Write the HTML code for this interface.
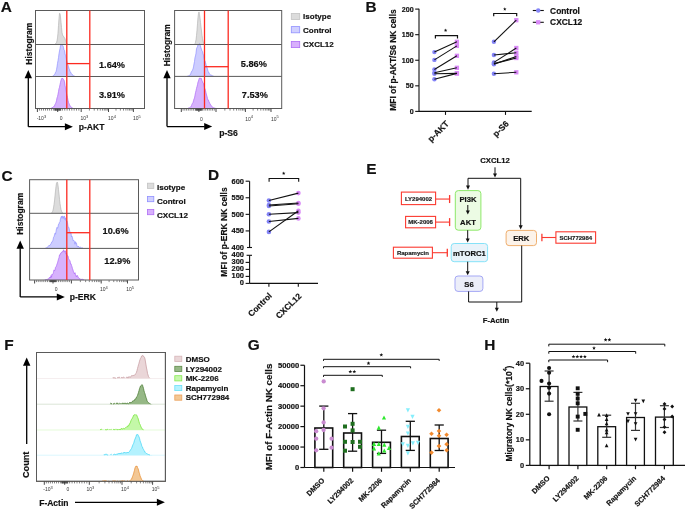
<!DOCTYPE html>
<html><head><meta charset="utf-8"><style>
html,body{margin:0;padding:0;background:#fff;overflow:hidden;}
svg{display:block;font-family:"Liberation Sans", sans-serif;will-change:transform;}
</style></head><body>
<svg width="685" height="509" viewBox="0 0 685 509">
<rect width="685" height="509" fill="#fff"/>
<text x="0.64" y="11.60" font-size="15.4" font-weight="bold" text-anchor="start" fill="#111" stroke="#111" stroke-width="0.18">A</text>
<polygon points="51.00,44.50 51.00,44.50 51.50,44.50 52.00,44.49 52.50,44.49 53.00,44.47 53.50,44.44 54.00,44.38 54.50,44.27 55.00,44.10 55.50,43.84 56.00,43.27 56.50,42.63 57.00,40.83 57.50,37.95 58.00,33.09 58.50,25.61 59.00,18.56 59.50,13.42 60.00,13.50 60.50,16.93 61.00,22.15 61.50,27.45 62.00,32.39 62.50,34.99 63.00,35.97 63.50,36.30 64.00,37.10 64.50,38.03 65.00,38.67 65.50,40.71 66.00,41.41 66.50,42.77 67.00,43.55 67.50,44.01 68.00,44.25 68.50,44.40 69.00,44.46 69.50,44.49 70.00,44.50 70.00,44.50" fill="#dcdcdc" stroke="none" stroke-width="1"/>
<polyline points="55.00,44.10 55.50,43.84 56.00,43.27 56.50,42.63 57.00,40.83 57.50,37.95 58.00,33.09 58.50,25.61 59.00,18.56 59.50,13.42 60.00,13.50 60.50,16.93 61.00,22.15 61.50,27.45 62.00,32.39 62.50,34.99 63.00,35.97 63.50,36.30 64.00,37.10 64.50,38.03 65.00,38.67 65.50,40.71 66.00,41.41 66.50,42.77 67.00,43.55 67.50,44.01" fill="none" stroke="#b4b4b4" stroke-width="0.7" stroke-linejoin="round"/>
<polygon points="49.00,76.50 49.00,76.49 49.50,76.49 50.00,76.47 50.50,76.45 51.00,76.42 51.50,76.36 52.00,76.28 52.50,76.17 53.00,75.84 53.50,75.74 54.00,75.11 54.50,74.39 55.00,73.79 55.50,72.35 56.00,71.66 56.50,69.69 57.00,67.03 57.50,63.37 58.00,60.70 58.50,57.60 59.00,53.81 59.50,50.97 60.00,48.59 60.50,45.66 61.00,44.52 61.50,44.80 62.00,44.44 62.50,45.32 63.00,45.81 63.50,47.46 64.00,49.86 64.50,50.40 65.00,53.88 65.50,55.37 66.00,56.85 66.50,60.05 67.00,61.51 67.50,64.31 68.00,65.05 68.50,66.61 69.00,68.53 69.50,69.38 70.00,71.61 70.50,71.97 71.00,73.06 71.50,73.84 72.00,74.56 72.50,74.77 73.00,75.16 73.50,75.68 74.00,75.85 74.50,76.15 75.00,76.17 75.50,76.29 76.00,76.35 76.50,76.40 77.00,76.43 77.50,76.46 78.00,76.47 78.00,76.50" fill="#cdcdff" stroke="none" stroke-width="1"/>
<polyline points="52.50,76.17 53.00,75.84 53.50,75.74 54.00,75.11 54.50,74.39 55.00,73.79 55.50,72.35 56.00,71.66 56.50,69.69 57.00,67.03 57.50,63.37 58.00,60.70 58.50,57.60 59.00,53.81 59.50,50.97 60.00,48.59 60.50,45.66 61.00,44.52 61.50,44.80 62.00,44.44 62.50,45.32 63.00,45.81 63.50,47.46 64.00,49.86 64.50,50.40 65.00,53.88 65.50,55.37 66.00,56.85 66.50,60.05 67.00,61.51 67.50,64.31 68.00,65.05 68.50,66.61 69.00,68.53 69.50,69.38 70.00,71.61 70.50,71.97 71.00,73.06 71.50,73.84 72.00,74.56 72.50,74.77 73.00,75.16 73.50,75.68 74.00,75.85 74.50,76.15 75.00,76.17" fill="none" stroke="#9090ff" stroke-width="0.7" stroke-linejoin="round"/>
<polygon points="48.00,108.50 48.00,108.48 48.50,108.47 49.00,108.45 49.50,108.42 50.00,108.38 50.50,108.31 51.00,108.21 51.50,108.05 52.00,107.77 52.50,107.51 53.00,107.35 53.50,106.85 54.00,106.02 54.50,105.90 55.00,104.45 55.50,103.68 56.00,102.33 56.50,100.76 57.00,97.89 57.50,96.71 58.00,94.29 58.50,91.72 59.00,88.64 59.50,87.36 60.00,84.59 60.50,82.42 61.00,80.23 61.50,79.00 62.00,78.07 62.50,78.52 63.00,78.53 63.50,79.44 64.00,80.12 64.50,81.94 65.00,85.37 65.50,87.89 66.00,90.50 66.50,93.18 67.00,95.41 67.50,97.65 68.00,100.25 68.50,102.47 69.00,103.46 69.50,104.81 70.00,105.60 70.50,106.14 71.00,106.97 71.50,107.51 72.00,107.81 72.50,108.04 73.00,108.22 73.50,108.32 74.00,108.39 74.50,108.43 75.00,108.46 75.50,108.48 76.00,108.49 76.00,108.50" fill="#d7b2fd" stroke="none" stroke-width="1"/>
<polyline points="51.00,108.21 51.50,108.05 52.00,107.77 52.50,107.51 53.00,107.35 53.50,106.85 54.00,106.02 54.50,105.90 55.00,104.45 55.50,103.68 56.00,102.33 56.50,100.76 57.00,97.89 57.50,96.71 58.00,94.29 58.50,91.72 59.00,88.64 59.50,87.36 60.00,84.59 60.50,82.42 61.00,80.23 61.50,79.00 62.00,78.07 62.50,78.52 63.00,78.53 63.50,79.44 64.00,80.12 64.50,81.94 65.00,85.37 65.50,87.89 66.00,90.50 66.50,93.18 67.00,95.41 67.50,97.65 68.00,100.25 68.50,102.47 69.00,103.46 69.50,104.81 70.00,105.60 70.50,106.14 71.00,106.97 71.50,107.51 72.00,107.81 72.50,108.04 73.00,108.22" fill="none" stroke="#ac68f6" stroke-width="0.7" stroke-linejoin="round"/>
<rect x="35.50" y="10.50" width="109.00" height="98.00" fill="none" stroke="#5a5a5a" stroke-width="1" rx="0"/>
<line x1="35.50" y1="44.50" x2="144.50" y2="44.50" stroke="#5a5a5a" stroke-width="1"/>
<line x1="35.50" y1="76.50" x2="144.50" y2="76.50" stroke="#5a5a5a" stroke-width="1"/>
<line x1="66.80" y1="10.50" x2="66.80" y2="108.50" stroke="#fc2a20" stroke-width="1.3"/>
<line x1="89.80" y1="10.50" x2="89.80" y2="108.50" stroke="#fc2a20" stroke-width="1.3"/>
<line x1="66.80" y1="63.60" x2="89.80" y2="63.60" stroke="#fc2a20" stroke-width="1.3"/>
<text x="112.00" y="68.30" font-size="9.2" font-weight="bold" text-anchor="middle" fill="#111" stroke="#111" stroke-width="0.18">1.64%</text>
<text x="112.00" y="98.30" font-size="9.2" font-weight="bold" text-anchor="middle" fill="#111" stroke="#111" stroke-width="0.18">3.91%</text>
<text x="31.90" y="43.60" font-size="8.5" font-weight="bold" text-anchor="middle" fill="#111" stroke="#111" stroke-width="0.18" transform="rotate(-90 31.9 43.6)">Histogram</text>
<line x1="28.30" y1="126.70" x2="28.30" y2="77.80" stroke="#000" stroke-width="1.3"/>
<polygon points="28.30,70.00 24.60,78.30 32.00,78.30" fill="#000" stroke="none" stroke-width="1"/>
<line x1="28.30" y1="126.70" x2="65.40" y2="126.70" stroke="#000" stroke-width="1.3"/>
<polygon points="72.90,126.70 64.90,123.20 64.90,130.20" fill="#000" stroke="none" stroke-width="1"/>
<text x="78.70" y="130.20" font-size="8.6" font-weight="bold" text-anchor="start" fill="#111" stroke="#111" stroke-width="0.18">p-AKT</text>
<line x1="37.40" y1="108.80" x2="37.40" y2="112.00" stroke="#333" stroke-width="0.9"/>
<line x1="57.70" y1="108.80" x2="57.70" y2="112.00" stroke="#333" stroke-width="0.9"/>
<line x1="81.20" y1="108.80" x2="81.20" y2="112.00" stroke="#333" stroke-width="0.9"/>
<line x1="108.50" y1="108.80" x2="108.50" y2="112.00" stroke="#333" stroke-width="0.9"/>
<line x1="133.40" y1="108.80" x2="133.40" y2="112.00" stroke="#333" stroke-width="0.9"/>
<line x1="39.43" y1="108.80" x2="39.43" y2="110.60" stroke="#333" stroke-width="0.6"/>
<line x1="60.05" y1="108.80" x2="60.05" y2="110.60" stroke="#333" stroke-width="0.6"/>
<line x1="41.46" y1="108.80" x2="41.46" y2="110.60" stroke="#333" stroke-width="0.6"/>
<line x1="62.40" y1="108.80" x2="62.40" y2="110.60" stroke="#333" stroke-width="0.6"/>
<line x1="43.49" y1="108.80" x2="43.49" y2="110.60" stroke="#333" stroke-width="0.6"/>
<line x1="64.75" y1="108.80" x2="64.75" y2="110.60" stroke="#333" stroke-width="0.6"/>
<line x1="45.52" y1="108.80" x2="45.52" y2="110.60" stroke="#333" stroke-width="0.6"/>
<line x1="67.10" y1="108.80" x2="67.10" y2="110.60" stroke="#333" stroke-width="0.6"/>
<line x1="47.55" y1="108.80" x2="47.55" y2="110.60" stroke="#333" stroke-width="0.6"/>
<line x1="69.45" y1="108.80" x2="69.45" y2="110.60" stroke="#333" stroke-width="0.6"/>
<line x1="49.58" y1="108.80" x2="49.58" y2="110.60" stroke="#333" stroke-width="0.6"/>
<line x1="71.80" y1="108.80" x2="71.80" y2="110.60" stroke="#333" stroke-width="0.6"/>
<line x1="51.61" y1="108.80" x2="51.61" y2="110.60" stroke="#333" stroke-width="0.6"/>
<line x1="74.15" y1="108.80" x2="74.15" y2="110.60" stroke="#333" stroke-width="0.6"/>
<line x1="53.64" y1="108.80" x2="53.64" y2="110.60" stroke="#333" stroke-width="0.6"/>
<line x1="76.50" y1="108.80" x2="76.50" y2="110.60" stroke="#333" stroke-width="0.6"/>
<line x1="55.67" y1="108.80" x2="55.67" y2="110.60" stroke="#333" stroke-width="0.6"/>
<line x1="78.85" y1="108.80" x2="78.85" y2="110.60" stroke="#333" stroke-width="0.6"/>
<line x1="89.42" y1="108.80" x2="89.42" y2="110.60" stroke="#333" stroke-width="0.6"/>
<line x1="94.23" y1="108.80" x2="94.23" y2="110.60" stroke="#333" stroke-width="0.6"/>
<line x1="97.64" y1="108.80" x2="97.64" y2="110.60" stroke="#333" stroke-width="0.6"/>
<line x1="100.28" y1="108.80" x2="100.28" y2="110.60" stroke="#333" stroke-width="0.6"/>
<line x1="102.44" y1="108.80" x2="102.44" y2="110.60" stroke="#333" stroke-width="0.6"/>
<line x1="104.27" y1="108.80" x2="104.27" y2="110.60" stroke="#333" stroke-width="0.6"/>
<line x1="105.85" y1="108.80" x2="105.85" y2="110.60" stroke="#333" stroke-width="0.6"/>
<line x1="107.25" y1="108.80" x2="107.25" y2="110.60" stroke="#333" stroke-width="0.6"/>
<line x1="116.00" y1="108.80" x2="116.00" y2="110.60" stroke="#333" stroke-width="0.6"/>
<line x1="120.38" y1="108.80" x2="120.38" y2="110.60" stroke="#333" stroke-width="0.6"/>
<line x1="123.49" y1="108.80" x2="123.49" y2="110.60" stroke="#333" stroke-width="0.6"/>
<line x1="125.90" y1="108.80" x2="125.90" y2="110.60" stroke="#333" stroke-width="0.6"/>
<line x1="127.88" y1="108.80" x2="127.88" y2="110.60" stroke="#333" stroke-width="0.6"/>
<line x1="129.54" y1="108.80" x2="129.54" y2="110.60" stroke="#333" stroke-width="0.6"/>
<line x1="130.99" y1="108.80" x2="130.99" y2="110.60" stroke="#333" stroke-width="0.6"/>
<line x1="132.26" y1="108.80" x2="132.26" y2="110.60" stroke="#333" stroke-width="0.6"/>
<line x1="54.70" y1="108.80" x2="54.70" y2="110.60" stroke="#333" stroke-width="0.6"/>
<line x1="55.20" y1="108.80" x2="55.20" y2="110.60" stroke="#333" stroke-width="0.6"/>
<line x1="55.70" y1="108.80" x2="55.70" y2="110.60" stroke="#333" stroke-width="0.6"/>
<line x1="56.20" y1="108.80" x2="56.20" y2="110.60" stroke="#333" stroke-width="0.6"/>
<line x1="56.70" y1="108.80" x2="56.70" y2="110.60" stroke="#333" stroke-width="0.6"/>
<line x1="57.20" y1="108.80" x2="57.20" y2="110.60" stroke="#333" stroke-width="0.6"/>
<line x1="57.70" y1="108.80" x2="57.70" y2="110.60" stroke="#333" stroke-width="0.6"/>
<line x1="58.20" y1="108.80" x2="58.20" y2="110.60" stroke="#333" stroke-width="0.6"/>
<line x1="58.70" y1="108.80" x2="58.70" y2="110.60" stroke="#333" stroke-width="0.6"/>
<line x1="59.20" y1="108.80" x2="59.20" y2="110.60" stroke="#333" stroke-width="0.6"/>
<line x1="59.70" y1="108.80" x2="59.70" y2="110.60" stroke="#333" stroke-width="0.6"/>
<line x1="60.20" y1="108.80" x2="60.20" y2="110.60" stroke="#333" stroke-width="0.6"/>
<line x1="60.70" y1="108.80" x2="60.70" y2="110.60" stroke="#333" stroke-width="0.6"/>
<text x="41.40" y="120.30" font-size="5.0" fill="#333" text-anchor="middle">-10<tspan dy="-2.3" font-size="4.00">3</tspan></text>
<text x="61.20" y="120.30" font-size="5.0" fill="#333" text-anchor="middle">0</text>
<text x="84.30" y="120.30" font-size="5.0" fill="#333" text-anchor="middle">10<tspan dy="-2.3" font-size="4.00">3</tspan></text>
<text x="112.00" y="120.30" font-size="5.0" fill="#333" text-anchor="middle">10<tspan dy="-2.3" font-size="4.00">4</tspan></text>
<text x="136.90" y="120.30" font-size="5.0" fill="#333" text-anchor="middle">10<tspan dy="-2.3" font-size="4.00">5</tspan></text>
<polygon points="193.00,44.50 193.00,44.49 193.50,44.48 194.00,44.41 194.50,44.21 195.00,43.80 195.50,42.27 196.00,39.83 196.50,35.75 197.00,30.14 197.50,23.81 198.00,17.36 198.50,13.44 199.00,11.90 199.50,14.45 200.00,18.12 200.50,22.41 201.00,26.97 201.50,30.99 202.00,35.21 202.50,38.65 203.00,41.13 203.50,42.81 204.00,43.69 204.50,44.23 205.00,44.40 205.50,44.47 206.00,44.49 206.00,44.50" fill="#dcdcdc" stroke="none" stroke-width="1"/>
<polyline points="194.50,44.21 195.00,43.80 195.50,42.27 196.00,39.83 196.50,35.75 197.00,30.14 197.50,23.81 198.00,17.36 198.50,13.44 199.00,11.90 199.50,14.45 200.00,18.12 200.50,22.41 201.00,26.97 201.50,30.99 202.00,35.21 202.50,38.65 203.00,41.13 203.50,42.81 204.00,43.69 204.50,44.23" fill="none" stroke="#b4b4b4" stroke-width="0.7" stroke-linejoin="round"/>
<polygon points="184.00,76.40 184.00,76.39 184.50,76.38 185.00,76.36 185.50,76.34 186.00,76.31 186.50,76.26 187.00,76.19 187.50,76.04 188.00,75.93 188.50,75.88 189.00,75.63 189.50,75.27 190.00,74.85 190.50,74.58 191.00,72.90 191.50,71.53 192.00,71.40 192.50,69.93 193.00,68.99 193.50,66.89 194.00,64.02 194.50,61.49 195.00,57.48 195.50,55.86 196.00,53.27 196.50,48.80 197.00,47.46 197.50,46.56 198.00,44.67 198.50,45.17 199.00,44.14 199.50,43.66 200.00,44.66 200.50,45.99 201.00,48.04 201.50,49.18 202.00,51.10 202.50,51.56 203.00,53.83 203.50,55.22 204.00,58.06 204.50,60.22 205.00,60.96 205.50,62.47 206.00,64.49 206.50,66.21 207.00,67.67 207.50,69.17 208.00,71.38 208.50,71.83 209.00,73.01 209.50,74.17 210.00,74.65 210.50,74.82 211.00,75.20 211.50,75.26 212.00,75.44 212.50,75.84 213.00,75.88 213.50,76.02 214.00,76.18 214.50,76.24 215.00,76.29 215.50,76.32 216.00,76.35 216.50,76.37 217.00,76.38 217.00,76.40" fill="#cdcdff" stroke="none" stroke-width="1"/>
<polyline points="187.50,76.04 188.00,75.93 188.50,75.88 189.00,75.63 189.50,75.27 190.00,74.85 190.50,74.58 191.00,72.90 191.50,71.53 192.00,71.40 192.50,69.93 193.00,68.99 193.50,66.89 194.00,64.02 194.50,61.49 195.00,57.48 195.50,55.86 196.00,53.27 196.50,48.80 197.00,47.46 197.50,46.56 198.00,44.67 198.50,45.17 199.00,44.14 199.50,43.66 200.00,44.66 200.50,45.99 201.00,48.04 201.50,49.18 202.00,51.10 202.50,51.56 203.00,53.83 203.50,55.22 204.00,58.06 204.50,60.22 205.00,60.96 205.50,62.47 206.00,64.49 206.50,66.21 207.00,67.67 207.50,69.17 208.00,71.38 208.50,71.83 209.00,73.01 209.50,74.17 210.00,74.65 210.50,74.82 211.00,75.20 211.50,75.26 212.00,75.44 212.50,75.84 213.00,75.88 213.50,76.02" fill="none" stroke="#9090ff" stroke-width="0.7" stroke-linejoin="round"/>
<polygon points="184.00,108.50 184.00,108.49 184.50,108.49 185.00,108.48 185.50,108.46 186.00,108.44 186.50,108.41 187.00,108.37 187.50,108.30 188.00,108.21 188.50,108.01 189.00,107.93 189.50,107.74 190.00,107.44 190.50,107.07 191.00,106.57 191.50,105.53 192.00,104.27 192.50,103.27 193.00,102.53 193.50,100.83 194.00,98.97 194.50,98.10 195.00,95.26 195.50,92.73 196.00,90.65 196.50,88.40 197.00,86.53 197.50,84.82 198.00,82.05 198.50,81.05 199.00,79.11 199.50,78.00 200.00,78.38 200.50,78.39 201.00,77.96 201.50,78.89 202.00,80.56 202.50,81.76 203.00,83.09 203.50,83.56 204.00,85.37 204.50,88.06 205.00,88.93 205.50,90.55 206.00,92.82 206.50,95.01 207.00,96.41 207.50,98.58 208.00,100.21 208.50,100.20 209.00,101.85 209.50,103.09 210.00,103.45 210.50,104.95 211.00,105.18 211.50,105.87 212.00,106.82 212.50,107.16 213.00,107.44 213.50,107.70 214.00,107.81 214.50,108.04 215.00,108.13 215.50,108.22 216.00,108.29 216.50,108.35 217.00,108.39 217.50,108.42 218.00,108.45 218.50,108.46 219.00,108.47 219.00,108.50" fill="#d7b2fd" stroke="none" stroke-width="1"/>
<polyline points="188.00,108.21 188.50,108.01 189.00,107.93 189.50,107.74 190.00,107.44 190.50,107.07 191.00,106.57 191.50,105.53 192.00,104.27 192.50,103.27 193.00,102.53 193.50,100.83 194.00,98.97 194.50,98.10 195.00,95.26 195.50,92.73 196.00,90.65 196.50,88.40 197.00,86.53 197.50,84.82 198.00,82.05 198.50,81.05 199.00,79.11 199.50,78.00 200.00,78.38 200.50,78.39 201.00,77.96 201.50,78.89 202.00,80.56 202.50,81.76 203.00,83.09 203.50,83.56 204.00,85.37 204.50,88.06 205.00,88.93 205.50,90.55 206.00,92.82 206.50,95.01 207.00,96.41 207.50,98.58 208.00,100.21 208.50,100.20 209.00,101.85 209.50,103.09 210.00,103.45 210.50,104.95 211.00,105.18 211.50,105.87 212.00,106.82 212.50,107.16 213.00,107.44 213.50,107.70 214.00,107.81 214.50,108.04 215.00,108.13 215.50,108.22" fill="none" stroke="#ac68f6" stroke-width="0.7" stroke-linejoin="round"/>
<rect x="174.60" y="10.50" width="107.10" height="98.00" fill="none" stroke="#5a5a5a" stroke-width="1" rx="0"/>
<line x1="174.60" y1="44.50" x2="281.70" y2="44.50" stroke="#5a5a5a" stroke-width="1"/>
<line x1="174.60" y1="76.40" x2="281.70" y2="76.40" stroke="#5a5a5a" stroke-width="1"/>
<line x1="204.50" y1="10.50" x2="204.50" y2="108.50" stroke="#fc2a20" stroke-width="1.3"/>
<line x1="228.20" y1="10.50" x2="228.20" y2="108.50" stroke="#fc2a20" stroke-width="1.3"/>
<line x1="204.50" y1="66.70" x2="228.20" y2="66.70" stroke="#fc2a20" stroke-width="1.3"/>
<text x="253.80" y="67.30" font-size="9.2" font-weight="bold" text-anchor="middle" fill="#111" stroke="#111" stroke-width="0.18">5.86%</text>
<text x="254.80" y="98.00" font-size="9.2" font-weight="bold" text-anchor="middle" fill="#111" stroke="#111" stroke-width="0.18">7.53%</text>
<text x="170.00" y="45.10" font-size="8.5" font-weight="bold" text-anchor="middle" fill="#111" stroke="#111" stroke-width="0.18" transform="rotate(-90 170.0 45.1)">Histogram</text>
<line x1="167.00" y1="126.60" x2="167.00" y2="77.80" stroke="#000" stroke-width="1.3"/>
<polygon points="167.00,70.00 163.30,78.30 170.70,78.30" fill="#000" stroke="none" stroke-width="1"/>
<line x1="167.00" y1="126.60" x2="204.70" y2="126.60" stroke="#000" stroke-width="1.3"/>
<polygon points="212.20,126.60 204.20,123.10 204.20,130.10" fill="#000" stroke="none" stroke-width="1"/>
<text x="219.20" y="136.20" font-size="8.6" font-weight="bold" text-anchor="start" fill="#111" stroke="#111" stroke-width="0.18">p-S6</text>
<line x1="181.30" y1="108.80" x2="181.30" y2="112.00" stroke="#333" stroke-width="0.9"/>
<line x1="198.90" y1="108.80" x2="198.90" y2="112.00" stroke="#333" stroke-width="0.9"/>
<line x1="216.00" y1="108.80" x2="216.00" y2="112.00" stroke="#333" stroke-width="0.9"/>
<line x1="245.40" y1="108.80" x2="245.40" y2="112.00" stroke="#333" stroke-width="0.9"/>
<line x1="271.00" y1="108.80" x2="271.00" y2="112.00" stroke="#333" stroke-width="0.9"/>
<line x1="183.06" y1="108.80" x2="183.06" y2="110.60" stroke="#333" stroke-width="0.6"/>
<line x1="200.61" y1="108.80" x2="200.61" y2="110.60" stroke="#333" stroke-width="0.6"/>
<line x1="184.82" y1="108.80" x2="184.82" y2="110.60" stroke="#333" stroke-width="0.6"/>
<line x1="202.32" y1="108.80" x2="202.32" y2="110.60" stroke="#333" stroke-width="0.6"/>
<line x1="186.58" y1="108.80" x2="186.58" y2="110.60" stroke="#333" stroke-width="0.6"/>
<line x1="204.03" y1="108.80" x2="204.03" y2="110.60" stroke="#333" stroke-width="0.6"/>
<line x1="188.34" y1="108.80" x2="188.34" y2="110.60" stroke="#333" stroke-width="0.6"/>
<line x1="205.74" y1="108.80" x2="205.74" y2="110.60" stroke="#333" stroke-width="0.6"/>
<line x1="190.10" y1="108.80" x2="190.10" y2="110.60" stroke="#333" stroke-width="0.6"/>
<line x1="207.45" y1="108.80" x2="207.45" y2="110.60" stroke="#333" stroke-width="0.6"/>
<line x1="191.86" y1="108.80" x2="191.86" y2="110.60" stroke="#333" stroke-width="0.6"/>
<line x1="209.16" y1="108.80" x2="209.16" y2="110.60" stroke="#333" stroke-width="0.6"/>
<line x1="193.62" y1="108.80" x2="193.62" y2="110.60" stroke="#333" stroke-width="0.6"/>
<line x1="210.87" y1="108.80" x2="210.87" y2="110.60" stroke="#333" stroke-width="0.6"/>
<line x1="195.38" y1="108.80" x2="195.38" y2="110.60" stroke="#333" stroke-width="0.6"/>
<line x1="212.58" y1="108.80" x2="212.58" y2="110.60" stroke="#333" stroke-width="0.6"/>
<line x1="197.14" y1="108.80" x2="197.14" y2="110.60" stroke="#333" stroke-width="0.6"/>
<line x1="214.29" y1="108.80" x2="214.29" y2="110.60" stroke="#333" stroke-width="0.6"/>
<line x1="224.85" y1="108.80" x2="224.85" y2="110.60" stroke="#333" stroke-width="0.6"/>
<line x1="230.03" y1="108.80" x2="230.03" y2="110.60" stroke="#333" stroke-width="0.6"/>
<line x1="233.70" y1="108.80" x2="233.70" y2="110.60" stroke="#333" stroke-width="0.6"/>
<line x1="236.55" y1="108.80" x2="236.55" y2="110.60" stroke="#333" stroke-width="0.6"/>
<line x1="238.88" y1="108.80" x2="238.88" y2="110.60" stroke="#333" stroke-width="0.6"/>
<line x1="240.85" y1="108.80" x2="240.85" y2="110.60" stroke="#333" stroke-width="0.6"/>
<line x1="242.55" y1="108.80" x2="242.55" y2="110.60" stroke="#333" stroke-width="0.6"/>
<line x1="244.05" y1="108.80" x2="244.05" y2="110.60" stroke="#333" stroke-width="0.6"/>
<line x1="253.11" y1="108.80" x2="253.11" y2="110.60" stroke="#333" stroke-width="0.6"/>
<line x1="257.61" y1="108.80" x2="257.61" y2="110.60" stroke="#333" stroke-width="0.6"/>
<line x1="260.81" y1="108.80" x2="260.81" y2="110.60" stroke="#333" stroke-width="0.6"/>
<line x1="263.29" y1="108.80" x2="263.29" y2="110.60" stroke="#333" stroke-width="0.6"/>
<line x1="265.32" y1="108.80" x2="265.32" y2="110.60" stroke="#333" stroke-width="0.6"/>
<line x1="267.03" y1="108.80" x2="267.03" y2="110.60" stroke="#333" stroke-width="0.6"/>
<line x1="268.52" y1="108.80" x2="268.52" y2="110.60" stroke="#333" stroke-width="0.6"/>
<line x1="269.83" y1="108.80" x2="269.83" y2="110.60" stroke="#333" stroke-width="0.6"/>
<line x1="195.90" y1="108.80" x2="195.90" y2="110.60" stroke="#333" stroke-width="0.6"/>
<line x1="196.40" y1="108.80" x2="196.40" y2="110.60" stroke="#333" stroke-width="0.6"/>
<line x1="196.90" y1="108.80" x2="196.90" y2="110.60" stroke="#333" stroke-width="0.6"/>
<line x1="197.40" y1="108.80" x2="197.40" y2="110.60" stroke="#333" stroke-width="0.6"/>
<line x1="197.90" y1="108.80" x2="197.90" y2="110.60" stroke="#333" stroke-width="0.6"/>
<line x1="198.40" y1="108.80" x2="198.40" y2="110.60" stroke="#333" stroke-width="0.6"/>
<line x1="198.90" y1="108.80" x2="198.90" y2="110.60" stroke="#333" stroke-width="0.6"/>
<line x1="199.40" y1="108.80" x2="199.40" y2="110.60" stroke="#333" stroke-width="0.6"/>
<line x1="199.90" y1="108.80" x2="199.90" y2="110.60" stroke="#333" stroke-width="0.6"/>
<line x1="200.40" y1="108.80" x2="200.40" y2="110.60" stroke="#333" stroke-width="0.6"/>
<line x1="200.90" y1="108.80" x2="200.90" y2="110.60" stroke="#333" stroke-width="0.6"/>
<line x1="201.40" y1="108.80" x2="201.40" y2="110.60" stroke="#333" stroke-width="0.6"/>
<line x1="201.90" y1="108.80" x2="201.90" y2="110.60" stroke="#333" stroke-width="0.6"/>
<text x="201.40" y="120.50" font-size="5.0" fill="#333" text-anchor="middle">0</text>
<text x="249.20" y="120.50" font-size="5.0" fill="#333" text-anchor="middle">10<tspan dy="-2.3" font-size="4.00">4</tspan></text>
<text x="274.80" y="120.50" font-size="5.0" fill="#333" text-anchor="middle">10<tspan dy="-2.3" font-size="4.00">5</tspan></text>
<rect x="291.30" y="13.40" width="8.40" height="6.20" fill="#dcdcdc" stroke="#c4c4c4" stroke-width="0.8" rx="0"/>
<text x="303.10" y="19.10" font-size="8.0" font-weight="bold" text-anchor="start" fill="#111" stroke="#111" stroke-width="0.18">Isotype</text>
<rect x="291.30" y="26.60" width="8.40" height="6.20" fill="#d0d0ff" stroke="#9090ff" stroke-width="0.8" rx="0"/>
<text x="303.10" y="32.60" font-size="8.0" font-weight="bold" text-anchor="start" fill="#111" stroke="#111" stroke-width="0.18">Control</text>
<rect x="291.30" y="41.40" width="8.40" height="6.20" fill="#d8b0fc" stroke="#b070f6" stroke-width="0.8" rx="0"/>
<text x="303.10" y="47.10" font-size="8.0" font-weight="bold" text-anchor="start" fill="#111" stroke="#111" stroke-width="0.18">CXCL12</text>
<text x="365.40" y="12.20" font-size="15.4" font-weight="bold" text-anchor="start" fill="#111" stroke="#111" stroke-width="0.18">B</text>
<line x1="419.00" y1="8.70" x2="419.00" y2="111.40" stroke="#111" stroke-width="1.1"/>
<line x1="419.00" y1="111.40" x2="531.70" y2="111.40" stroke="#111" stroke-width="1.1"/>
<line x1="415.20" y1="111.40" x2="419.00" y2="111.40" stroke="#111" stroke-width="1.1"/>
<text x="413.60" y="113.90" font-size="7.1" font-weight="bold" text-anchor="end" fill="#111" stroke="#111" stroke-width="0.18">0</text>
<line x1="415.20" y1="85.83" x2="419.00" y2="85.83" stroke="#111" stroke-width="1.1"/>
<text x="413.60" y="88.33" font-size="7.1" font-weight="bold" text-anchor="end" fill="#111" stroke="#111" stroke-width="0.18">50</text>
<line x1="415.20" y1="60.25" x2="419.00" y2="60.25" stroke="#111" stroke-width="1.1"/>
<text x="413.60" y="62.75" font-size="7.1" font-weight="bold" text-anchor="end" fill="#111" stroke="#111" stroke-width="0.18">100</text>
<line x1="415.20" y1="34.68" x2="419.00" y2="34.68" stroke="#111" stroke-width="1.1"/>
<text x="413.60" y="37.18" font-size="7.1" font-weight="bold" text-anchor="end" fill="#111" stroke="#111" stroke-width="0.18">150</text>
<line x1="415.20" y1="9.10" x2="419.00" y2="9.10" stroke="#111" stroke-width="1.1"/>
<text x="413.60" y="11.60" font-size="7.1" font-weight="bold" text-anchor="end" fill="#111" stroke="#111" stroke-width="0.18">200</text>
<line x1="445.50" y1="111.40" x2="445.50" y2="114.90" stroke="#111" stroke-width="1.1"/>
<line x1="505.50" y1="111.40" x2="505.50" y2="114.90" stroke="#111" stroke-width="1.1"/>
<text x="395.90" y="60.00" font-size="8.5" font-weight="bold" text-anchor="middle" fill="#111" stroke="#111" stroke-width="0.18" transform="rotate(-90 395.9 60)">MFI of p-AKT/S6 NK cells</text>
<circle cx="434.4" cy="52.1" r="2.2" fill="#8585f7"/>
<circle cx="434.4" cy="59.9" r="2.2" fill="#8585f7"/>
<circle cx="434.4" cy="69.5" r="2.2" fill="#8585f7"/>
<circle cx="434.4" cy="72.8" r="2.2" fill="#8585f7"/>
<circle cx="434.4" cy="73.8" r="2.2" fill="#8585f7"/>
<circle cx="434.4" cy="79.3" r="2.2" fill="#8585f7"/>
<rect x="454.75" y="39.65" width="4.30" height="4.30" fill="#d98af7" stroke="none" stroke-width="1" rx="0"/>
<rect x="454.75" y="43.75" width="4.30" height="4.30" fill="#d98af7" stroke="none" stroke-width="1" rx="0"/>
<rect x="454.75" y="53.65" width="4.30" height="4.30" fill="#d98af7" stroke="none" stroke-width="1" rx="0"/>
<rect x="454.75" y="65.65" width="4.30" height="4.30" fill="#d98af7" stroke="none" stroke-width="1" rx="0"/>
<rect x="454.75" y="71.25" width="4.30" height="4.30" fill="#d98af7" stroke="none" stroke-width="1" rx="0"/>
<rect x="454.75" y="71.25" width="4.30" height="4.30" fill="#d98af7" stroke="none" stroke-width="1" rx="0"/>
<line x1="434.40" y1="52.10" x2="456.90" y2="41.80" stroke="#111" stroke-width="1.1"/>
<line x1="434.40" y1="59.90" x2="456.90" y2="45.90" stroke="#111" stroke-width="1.1"/>
<line x1="434.40" y1="69.50" x2="456.90" y2="55.80" stroke="#111" stroke-width="1.1"/>
<line x1="434.40" y1="72.80" x2="456.90" y2="67.80" stroke="#111" stroke-width="1.1"/>
<line x1="434.40" y1="73.80" x2="456.90" y2="73.40" stroke="#111" stroke-width="1.1"/>
<line x1="434.40" y1="79.30" x2="456.90" y2="73.40" stroke="#111" stroke-width="1.1"/>
<circle cx="493.9" cy="41.8" r="2.2" fill="#8585f7"/>
<circle cx="493.9" cy="55.0" r="2.2" fill="#8585f7"/>
<circle cx="493.9" cy="62.4" r="2.2" fill="#8585f7"/>
<circle cx="493.9" cy="63.6" r="2.2" fill="#8585f7"/>
<circle cx="493.9" cy="64.2" r="2.2" fill="#8585f7"/>
<circle cx="493.9" cy="73.7" r="2.2" fill="#8585f7"/>
<rect x="514.15" y="18.05" width="4.30" height="4.30" fill="#d98af7" stroke="none" stroke-width="1" rx="0"/>
<rect x="514.15" y="50.65" width="4.30" height="4.30" fill="#d98af7" stroke="none" stroke-width="1" rx="0"/>
<rect x="514.15" y="45.85" width="4.30" height="4.30" fill="#d98af7" stroke="none" stroke-width="1" rx="0"/>
<rect x="514.15" y="55.85" width="4.30" height="4.30" fill="#d98af7" stroke="none" stroke-width="1" rx="0"/>
<rect x="514.15" y="54.35" width="4.30" height="4.30" fill="#d98af7" stroke="none" stroke-width="1" rx="0"/>
<rect x="514.15" y="70.15" width="4.30" height="4.30" fill="#d98af7" stroke="none" stroke-width="1" rx="0"/>
<line x1="493.90" y1="41.80" x2="516.30" y2="20.20" stroke="#111" stroke-width="1.1"/>
<line x1="493.90" y1="55.00" x2="516.30" y2="52.80" stroke="#111" stroke-width="1.1"/>
<line x1="493.90" y1="62.40" x2="516.30" y2="48.00" stroke="#111" stroke-width="1.1"/>
<line x1="493.90" y1="63.60" x2="516.30" y2="58.00" stroke="#111" stroke-width="1.1"/>
<line x1="493.90" y1="64.20" x2="516.30" y2="56.50" stroke="#111" stroke-width="1.1"/>
<line x1="493.90" y1="73.70" x2="516.30" y2="72.30" stroke="#111" stroke-width="1.1"/>
<polyline points="435.40,38.40 435.40,35.60 457.50,35.60 457.50,38.40" fill="none" stroke="#111" stroke-width="1.2"/>
<polygon points="445.60,28.60 446.07,29.75 447.31,29.84 446.36,30.65 446.66,31.86 445.60,31.20 444.54,31.86 444.84,30.65 443.89,29.84 445.13,29.75" fill="#111" stroke="none" stroke-width="1"/>
<polyline points="493.70,16.30 493.70,13.50 516.70,13.50 516.70,16.30" fill="none" stroke="#111" stroke-width="1.2"/>
<polygon points="504.80,7.30 505.27,8.45 506.51,8.54 505.56,9.35 505.86,10.56 504.80,9.90 503.74,10.56 504.04,9.35 503.09,8.54 504.33,8.45" fill="#111" stroke="none" stroke-width="1"/>
<text x="449.50" y="124.30" font-size="8.6" font-weight="bold" text-anchor="end" fill="#111" stroke="#111" stroke-width="0.18" transform="rotate(-45 449.5 124.3)">p-AKT</text>
<text x="509.50" y="124.30" font-size="8.6" font-weight="bold" text-anchor="end" fill="#111" stroke="#111" stroke-width="0.18" transform="rotate(-45 509.5 124.3)">p-S6</text>
<line x1="532.80" y1="10.50" x2="543.80" y2="10.50" stroke="#111" stroke-width="1.1"/>
<circle cx="538.2" cy="10.5" r="2.2" fill="#8585f7"/>
<line x1="532.80" y1="22.30" x2="543.80" y2="22.30" stroke="#111" stroke-width="1.1"/>
<rect x="536.05" y="20.15" width="4.30" height="4.30" fill="#d98af7" stroke="none" stroke-width="1" rx="0"/>
<text x="550.10" y="13.60" font-size="8.4" font-weight="bold" text-anchor="start" fill="#111" stroke="#111" stroke-width="0.18">Control</text>
<text x="550.10" y="25.40" font-size="8.4" font-weight="bold" text-anchor="start" fill="#111" stroke="#111" stroke-width="0.18">CXCL12</text>
<text x="1.50" y="180.50" font-size="15.4" font-weight="bold" text-anchor="start" fill="#111" stroke="#111" stroke-width="0.18">C</text>
<polygon points="50.00,213.30 50.00,213.27 50.50,213.22 51.00,213.12 51.50,212.92 52.00,212.37 52.50,211.66 53.00,210.25 53.50,207.98 54.00,204.63 54.50,200.97 55.00,195.81 55.50,191.13 56.00,186.55 56.50,183.22 57.00,182.13 57.50,182.44 58.00,185.31 58.50,189.61 59.00,193.89 59.50,199.33 60.00,203.46 60.50,206.75 61.00,209.41 61.50,211.21 62.00,212.16 62.50,212.74 63.00,213.05 63.50,213.19 64.00,213.26 64.50,213.28 64.50,213.30" fill="#dcdcdc" stroke="none" stroke-width="1"/>
<polyline points="51.50,212.92 52.00,212.37 52.50,211.66 53.00,210.25 53.50,207.98 54.00,204.63 54.50,200.97 55.00,195.81 55.50,191.13 56.00,186.55 56.50,183.22 57.00,182.13 57.50,182.44 58.00,185.31 58.50,189.61 59.00,193.89 59.50,199.33 60.00,203.46 60.50,206.75 61.00,209.41 61.50,211.21 62.00,212.16 62.50,212.74 63.00,213.05" fill="none" stroke="#b4b4b4" stroke-width="0.7" stroke-linejoin="round"/>
<polygon points="38.00,248.40 38.00,248.39 38.50,248.39 39.00,248.39 39.50,248.38 40.00,248.38 40.50,248.37 41.00,248.36 41.50,248.34 42.00,248.32 42.50,248.30 43.00,248.26 43.50,248.22 44.00,248.17 44.50,248.02 45.00,248.15 45.50,247.88 46.00,247.92 46.50,247.77 47.00,247.18 47.50,247.17 48.00,246.81 48.50,246.13 49.00,245.33 49.50,245.84 50.00,244.84 50.50,244.53 51.00,243.80 51.50,242.36 52.00,242.34 52.50,241.06 53.00,240.18 53.50,237.33 54.00,236.94 54.50,234.94 55.00,233.28 55.50,234.24 56.00,231.61 56.50,228.65 57.00,227.43 57.50,228.38 58.00,226.89 58.50,224.24 59.00,224.16 59.50,222.26 60.00,221.69 60.50,218.52 61.00,217.26 61.50,216.20 62.00,218.42 62.50,216.16 63.00,216.34 63.50,218.36 64.00,216.04 64.50,216.24 65.00,219.61 65.50,217.80 66.00,220.76 66.50,221.53 67.00,220.91 67.50,222.76 68.00,226.52 68.50,226.95 69.00,228.08 69.50,230.16 70.00,232.12 70.50,233.10 71.00,233.04 71.50,236.92 72.00,236.28 72.50,237.92 73.00,240.59 73.50,240.54 74.00,240.49 74.50,241.81 75.00,244.26 75.50,241.71 76.00,243.10 76.50,243.20 77.00,246.39 77.50,246.32 78.00,247.10 78.50,246.07 79.00,247.17 79.50,247.55 80.00,247.42 80.50,247.22 81.00,247.49 81.50,247.95 82.00,248.09 82.50,247.90 83.00,248.11 83.50,248.17 84.00,248.22 84.50,248.26 85.00,248.29 85.50,248.31 86.00,248.33 86.00,248.40" fill="#cdcdff" stroke="none" stroke-width="1"/>
<polyline points="45.50,247.88 46.00,247.92 46.50,247.77 47.00,247.18 47.50,247.17 48.00,246.81 48.50,246.13 49.00,245.33 49.50,245.84 50.00,244.84 50.50,244.53 51.00,243.80 51.50,242.36 52.00,242.34 52.50,241.06 53.00,240.18 53.50,237.33 54.00,236.94 54.50,234.94 55.00,233.28 55.50,234.24 56.00,231.61 56.50,228.65 57.00,227.43 57.50,228.38 58.00,226.89 58.50,224.24 59.00,224.16 59.50,222.26 60.00,221.69 60.50,218.52 61.00,217.26 61.50,216.20 62.00,218.42 62.50,216.16 63.00,216.34 63.50,218.36 64.00,216.04 64.50,216.24 65.00,219.61 65.50,217.80 66.00,220.76 66.50,221.53 67.00,220.91 67.50,222.76 68.00,226.52 68.50,226.95 69.00,228.08 69.50,230.16 70.00,232.12 70.50,233.10 71.00,233.04 71.50,236.92 72.00,236.28 72.50,237.92 73.00,240.59 73.50,240.54 74.00,240.49 74.50,241.81 75.00,244.26 75.50,241.71 76.00,243.10 76.50,243.20 77.00,246.39 77.50,246.32 78.00,247.10 78.50,246.07 79.00,247.17 79.50,247.55 80.00,247.42 80.50,247.22 81.00,247.49 81.50,247.95 82.00,248.09 82.50,247.90 83.00,248.11" fill="none" stroke="#9090ff" stroke-width="0.7" stroke-linejoin="round"/>
<polygon points="38.00,280.00 38.00,280.00 38.50,280.00 39.00,279.99 39.50,279.99 40.00,279.99 40.50,279.98 41.00,279.98 41.50,279.97 42.00,279.95 42.50,279.94 43.00,279.92 43.50,279.89 44.00,279.85 44.50,279.81 45.00,279.75 45.50,279.65 46.00,279.51 46.50,279.64 47.00,279.56 47.50,279.02 48.00,279.00 48.50,279.13 49.00,277.80 49.50,277.80 50.00,277.00 50.50,278.06 51.00,275.53 51.50,277.26 52.00,273.97 52.50,274.45 53.00,273.90 53.50,272.19 54.00,269.89 54.50,270.80 55.00,269.96 55.50,267.33 56.00,266.83 56.50,265.77 57.00,264.10 57.50,262.94 58.00,260.95 58.50,259.12 59.00,257.73 59.50,254.94 60.00,255.21 60.50,253.43 61.00,253.51 61.50,252.19 62.00,252.65 62.50,251.51 63.00,252.07 63.50,249.78 64.00,250.54 64.50,252.03 65.00,251.60 65.50,250.75 66.00,254.16 66.50,252.76 67.00,254.98 67.50,255.86 68.00,255.93 68.50,258.57 69.00,259.47 69.50,260.19 70.00,260.56 70.50,263.92 71.00,263.66 71.50,265.33 72.00,266.80 72.50,268.73 73.00,270.05 73.50,272.06 74.00,272.83 74.50,273.96 75.00,272.68 75.50,275.04 76.00,276.06 76.50,276.97 77.00,275.21 77.50,275.81 78.00,276.86 78.50,278.06 79.00,278.43 79.50,278.61 80.00,278.65 80.50,279.16 81.00,279.08 81.50,279.36 82.00,279.12 82.50,279.28 83.00,279.56 83.50,279.73 84.00,279.73 84.50,279.78 85.00,279.83 85.50,279.86 86.00,279.89 86.00,280.00" fill="#d7b2fd" stroke="none" stroke-width="1"/>
<polyline points="45.00,279.75 45.50,279.65 46.00,279.51 46.50,279.64 47.00,279.56 47.50,279.02 48.00,279.00 48.50,279.13 49.00,277.80 49.50,277.80 50.00,277.00 50.50,278.06 51.00,275.53 51.50,277.26 52.00,273.97 52.50,274.45 53.00,273.90 53.50,272.19 54.00,269.89 54.50,270.80 55.00,269.96 55.50,267.33 56.00,266.83 56.50,265.77 57.00,264.10 57.50,262.94 58.00,260.95 58.50,259.12 59.00,257.73 59.50,254.94 60.00,255.21 60.50,253.43 61.00,253.51 61.50,252.19 62.00,252.65 62.50,251.51 63.00,252.07 63.50,249.78 64.00,250.54 64.50,252.03 65.00,251.60 65.50,250.75 66.00,254.16 66.50,252.76 67.00,254.98 67.50,255.86 68.00,255.93 68.50,258.57 69.00,259.47 69.50,260.19 70.00,260.56 70.50,263.92 71.00,263.66 71.50,265.33 72.00,266.80 72.50,268.73 73.00,270.05 73.50,272.06 74.00,272.83 74.50,273.96 75.00,272.68 75.50,275.04 76.00,276.06 76.50,276.97 77.00,275.21 77.50,275.81 78.00,276.86 78.50,278.06 79.00,278.43 79.50,278.61 80.00,278.65 80.50,279.16 81.00,279.08 81.50,279.36 82.00,279.12 82.50,279.28 83.00,279.56 83.50,279.73 84.00,279.73" fill="none" stroke="#ac68f6" stroke-width="0.7" stroke-linejoin="round"/>
<rect x="29.60" y="179.70" width="108.90" height="100.30" fill="none" stroke="#5a5a5a" stroke-width="1" rx="0"/>
<line x1="29.60" y1="213.30" x2="138.50" y2="213.30" stroke="#5a5a5a" stroke-width="1"/>
<line x1="29.60" y1="248.40" x2="138.50" y2="248.40" stroke="#5a5a5a" stroke-width="1"/>
<line x1="66.80" y1="179.70" x2="66.80" y2="280.00" stroke="#fc2a20" stroke-width="1.3"/>
<line x1="89.80" y1="179.70" x2="89.80" y2="280.00" stroke="#fc2a20" stroke-width="1.3"/>
<line x1="66.80" y1="232.70" x2="89.80" y2="232.70" stroke="#fc2a20" stroke-width="1.3"/>
<text x="115.60" y="233.70" font-size="9.2" font-weight="bold" text-anchor="middle" fill="#111" stroke="#111" stroke-width="0.18">10.6%</text>
<text x="117.30" y="263.90" font-size="9.2" font-weight="bold" text-anchor="middle" fill="#111" stroke="#111" stroke-width="0.18">12.9%</text>
<text x="23.50" y="213.80" font-size="8.5" font-weight="bold" text-anchor="middle" fill="#111" stroke="#111" stroke-width="0.18" transform="rotate(-90 23.5 213.8)">Histogram</text>
<line x1="20.20" y1="296.90" x2="20.20" y2="248.30" stroke="#000" stroke-width="1.3"/>
<polygon points="20.20,240.50 16.50,248.80 23.90,248.80" fill="#000" stroke="none" stroke-width="1"/>
<line x1="20.20" y1="296.90" x2="57.30" y2="296.90" stroke="#000" stroke-width="1.3"/>
<polygon points="64.80,296.90 56.80,293.40 56.80,300.40" fill="#000" stroke="none" stroke-width="1"/>
<text x="69.70" y="300.00" font-size="8.6" font-weight="bold" text-anchor="start" fill="#111" stroke="#111" stroke-width="0.18">p-ERK</text>
<line x1="34.60" y1="280.30" x2="34.60" y2="283.50" stroke="#333" stroke-width="0.9"/>
<line x1="53.00" y1="280.30" x2="53.00" y2="283.50" stroke="#333" stroke-width="0.9"/>
<line x1="71.40" y1="280.30" x2="71.40" y2="283.50" stroke="#333" stroke-width="0.9"/>
<line x1="101.20" y1="280.30" x2="101.20" y2="283.50" stroke="#333" stroke-width="0.9"/>
<line x1="127.50" y1="280.30" x2="127.50" y2="283.50" stroke="#333" stroke-width="0.9"/>
<line x1="36.44" y1="280.30" x2="36.44" y2="282.10" stroke="#333" stroke-width="0.6"/>
<line x1="54.84" y1="280.30" x2="54.84" y2="282.10" stroke="#333" stroke-width="0.6"/>
<line x1="38.28" y1="280.30" x2="38.28" y2="282.10" stroke="#333" stroke-width="0.6"/>
<line x1="56.68" y1="280.30" x2="56.68" y2="282.10" stroke="#333" stroke-width="0.6"/>
<line x1="40.12" y1="280.30" x2="40.12" y2="282.10" stroke="#333" stroke-width="0.6"/>
<line x1="58.52" y1="280.30" x2="58.52" y2="282.10" stroke="#333" stroke-width="0.6"/>
<line x1="41.96" y1="280.30" x2="41.96" y2="282.10" stroke="#333" stroke-width="0.6"/>
<line x1="60.36" y1="280.30" x2="60.36" y2="282.10" stroke="#333" stroke-width="0.6"/>
<line x1="43.80" y1="280.30" x2="43.80" y2="282.10" stroke="#333" stroke-width="0.6"/>
<line x1="62.20" y1="280.30" x2="62.20" y2="282.10" stroke="#333" stroke-width="0.6"/>
<line x1="45.64" y1="280.30" x2="45.64" y2="282.10" stroke="#333" stroke-width="0.6"/>
<line x1="64.04" y1="280.30" x2="64.04" y2="282.10" stroke="#333" stroke-width="0.6"/>
<line x1="47.48" y1="280.30" x2="47.48" y2="282.10" stroke="#333" stroke-width="0.6"/>
<line x1="65.88" y1="280.30" x2="65.88" y2="282.10" stroke="#333" stroke-width="0.6"/>
<line x1="49.32" y1="280.30" x2="49.32" y2="282.10" stroke="#333" stroke-width="0.6"/>
<line x1="67.72" y1="280.30" x2="67.72" y2="282.10" stroke="#333" stroke-width="0.6"/>
<line x1="51.16" y1="280.30" x2="51.16" y2="282.10" stroke="#333" stroke-width="0.6"/>
<line x1="69.56" y1="280.30" x2="69.56" y2="282.10" stroke="#333" stroke-width="0.6"/>
<line x1="80.37" y1="280.30" x2="80.37" y2="282.10" stroke="#333" stroke-width="0.6"/>
<line x1="85.62" y1="280.30" x2="85.62" y2="282.10" stroke="#333" stroke-width="0.6"/>
<line x1="89.34" y1="280.30" x2="89.34" y2="282.10" stroke="#333" stroke-width="0.6"/>
<line x1="92.23" y1="280.30" x2="92.23" y2="282.10" stroke="#333" stroke-width="0.6"/>
<line x1="94.59" y1="280.30" x2="94.59" y2="282.10" stroke="#333" stroke-width="0.6"/>
<line x1="96.58" y1="280.30" x2="96.58" y2="282.10" stroke="#333" stroke-width="0.6"/>
<line x1="98.31" y1="280.30" x2="98.31" y2="282.10" stroke="#333" stroke-width="0.6"/>
<line x1="99.84" y1="280.30" x2="99.84" y2="282.10" stroke="#333" stroke-width="0.6"/>
<line x1="109.12" y1="280.30" x2="109.12" y2="282.10" stroke="#333" stroke-width="0.6"/>
<line x1="113.75" y1="280.30" x2="113.75" y2="282.10" stroke="#333" stroke-width="0.6"/>
<line x1="117.03" y1="280.30" x2="117.03" y2="282.10" stroke="#333" stroke-width="0.6"/>
<line x1="119.58" y1="280.30" x2="119.58" y2="282.10" stroke="#333" stroke-width="0.6"/>
<line x1="121.67" y1="280.30" x2="121.67" y2="282.10" stroke="#333" stroke-width="0.6"/>
<line x1="123.43" y1="280.30" x2="123.43" y2="282.10" stroke="#333" stroke-width="0.6"/>
<line x1="124.95" y1="280.30" x2="124.95" y2="282.10" stroke="#333" stroke-width="0.6"/>
<line x1="126.30" y1="280.30" x2="126.30" y2="282.10" stroke="#333" stroke-width="0.6"/>
<line x1="50.00" y1="280.30" x2="50.00" y2="282.10" stroke="#333" stroke-width="0.6"/>
<line x1="50.50" y1="280.30" x2="50.50" y2="282.10" stroke="#333" stroke-width="0.6"/>
<line x1="51.00" y1="280.30" x2="51.00" y2="282.10" stroke="#333" stroke-width="0.6"/>
<line x1="51.50" y1="280.30" x2="51.50" y2="282.10" stroke="#333" stroke-width="0.6"/>
<line x1="52.00" y1="280.30" x2="52.00" y2="282.10" stroke="#333" stroke-width="0.6"/>
<line x1="52.50" y1="280.30" x2="52.50" y2="282.10" stroke="#333" stroke-width="0.6"/>
<line x1="53.00" y1="280.30" x2="53.00" y2="282.10" stroke="#333" stroke-width="0.6"/>
<line x1="53.50" y1="280.30" x2="53.50" y2="282.10" stroke="#333" stroke-width="0.6"/>
<line x1="54.00" y1="280.30" x2="54.00" y2="282.10" stroke="#333" stroke-width="0.6"/>
<line x1="54.50" y1="280.30" x2="54.50" y2="282.10" stroke="#333" stroke-width="0.6"/>
<line x1="55.00" y1="280.30" x2="55.00" y2="282.10" stroke="#333" stroke-width="0.6"/>
<line x1="55.50" y1="280.30" x2="55.50" y2="282.10" stroke="#333" stroke-width="0.6"/>
<line x1="56.00" y1="280.30" x2="56.00" y2="282.10" stroke="#333" stroke-width="0.6"/>
<text x="56.20" y="290.90" font-size="5.0" fill="#333" text-anchor="middle">0</text>
<text x="103.80" y="290.90" font-size="5.0" fill="#333" text-anchor="middle">10<tspan dy="-2.3" font-size="4.00">4</tspan></text>
<text x="130.10" y="290.90" font-size="5.0" fill="#333" text-anchor="middle">10<tspan dy="-2.3" font-size="4.00">5</tspan></text>
<rect x="147.40" y="183.20" width="6.40" height="5.20" fill="#dcdcdc" stroke="#c4c4c4" stroke-width="0.8" rx="0"/>
<text x="156.90" y="190.00" font-size="8.1" font-weight="bold" text-anchor="start" fill="#111" stroke="#111" stroke-width="0.18">Isotype</text>
<rect x="147.40" y="196.50" width="6.40" height="5.20" fill="#d0d0ff" stroke="#9090ff" stroke-width="0.8" rx="0"/>
<text x="156.90" y="204.00" font-size="8.1" font-weight="bold" text-anchor="start" fill="#111" stroke="#111" stroke-width="0.18">Control</text>
<rect x="147.40" y="209.50" width="6.40" height="5.20" fill="#d8b0fc" stroke="#b070f6" stroke-width="0.8" rx="0"/>
<text x="156.90" y="217.70" font-size="8.1" font-weight="bold" text-anchor="start" fill="#111" stroke="#111" stroke-width="0.18">CXCL12</text>
<text x="208.10" y="179.50" font-size="15.4" font-weight="bold" text-anchor="start" fill="#111" stroke="#111" stroke-width="0.18">D</text>
<line x1="249.60" y1="181.20" x2="249.60" y2="247.50" stroke="#111" stroke-width="1.1"/>
<line x1="249.60" y1="255.30" x2="249.60" y2="283.40" stroke="#111" stroke-width="1.1"/>
<line x1="249.60" y1="283.40" x2="318.00" y2="283.40" stroke="#111" stroke-width="1.1"/>
<line x1="245.60" y1="181.20" x2="249.60" y2="181.20" stroke="#111" stroke-width="1.1"/>
<text x="244.00" y="183.60" font-size="7.5" font-weight="bold" text-anchor="end" fill="#111" stroke="#111" stroke-width="0.18">600</text>
<line x1="245.60" y1="197.77" x2="249.60" y2="197.77" stroke="#111" stroke-width="1.1"/>
<text x="244.00" y="200.17" font-size="7.5" font-weight="bold" text-anchor="end" fill="#111" stroke="#111" stroke-width="0.18">550</text>
<line x1="245.60" y1="214.35" x2="249.60" y2="214.35" stroke="#111" stroke-width="1.1"/>
<text x="244.00" y="216.75" font-size="7.5" font-weight="bold" text-anchor="end" fill="#111" stroke="#111" stroke-width="0.18">500</text>
<line x1="245.60" y1="230.92" x2="249.60" y2="230.92" stroke="#111" stroke-width="1.1"/>
<text x="244.00" y="233.32" font-size="7.5" font-weight="bold" text-anchor="end" fill="#111" stroke="#111" stroke-width="0.18">450</text>
<line x1="247.00" y1="247.50" x2="252.00" y2="247.50" stroke="#111" stroke-width="1.1"/>
<text x="244.00" y="249.70" font-size="7.5" font-weight="bold" text-anchor="end" fill="#111" stroke="#111" stroke-width="0.18">400</text>
<line x1="246.60" y1="255.30" x2="252.00" y2="255.30" stroke="#111" stroke-width="1.1"/>
<text x="244.00" y="257.20" font-size="7.5" font-weight="bold" text-anchor="end" fill="#111" stroke="#111" stroke-width="0.18">400</text>
<line x1="245.60" y1="262.40" x2="249.60" y2="262.40" stroke="#111" stroke-width="1.1"/>
<text x="244.00" y="264.40" font-size="7.5" font-weight="bold" text-anchor="end" fill="#111" stroke="#111" stroke-width="0.18">300</text>
<line x1="245.60" y1="269.40" x2="249.60" y2="269.40" stroke="#111" stroke-width="1.1"/>
<text x="244.00" y="271.40" font-size="7.5" font-weight="bold" text-anchor="end" fill="#111" stroke="#111" stroke-width="0.18">200</text>
<line x1="245.60" y1="276.40" x2="249.60" y2="276.40" stroke="#111" stroke-width="1.1"/>
<text x="244.00" y="278.40" font-size="7.5" font-weight="bold" text-anchor="end" fill="#111" stroke="#111" stroke-width="0.18">100</text>
<line x1="245.60" y1="283.40" x2="249.60" y2="283.40" stroke="#111" stroke-width="1.1"/>
<text x="244.00" y="285.40" font-size="7.5" font-weight="bold" text-anchor="end" fill="#111" stroke="#111" stroke-width="0.18">0</text>
<line x1="268.90" y1="283.50" x2="268.90" y2="286.80" stroke="#111" stroke-width="1.1"/>
<line x1="298.30" y1="283.50" x2="298.30" y2="286.80" stroke="#111" stroke-width="1.1"/>
<text x="227.40" y="232.00" font-size="8.5" font-weight="bold" text-anchor="middle" fill="#111" stroke="#111" stroke-width="0.18" transform="rotate(-90 227.4 232)">MFI of p-ERK NK cells</text>
<circle cx="268.9" cy="200.5" r="2.3" fill="#8585f7"/>
<circle cx="268.9" cy="205" r="2.3" fill="#8585f7"/>
<circle cx="268.9" cy="206" r="2.3" fill="#8585f7"/>
<circle cx="268.9" cy="214.3" r="2.3" fill="#8585f7"/>
<circle cx="268.9" cy="221.5" r="2.3" fill="#8585f7"/>
<circle cx="268.9" cy="231.9" r="2.3" fill="#8585f7"/>
<circle cx="298.4" cy="193.1" r="2.3" fill="#d98af7"/>
<circle cx="298.4" cy="203" r="2.3" fill="#d98af7"/>
<circle cx="298.4" cy="203.7" r="2.3" fill="#d98af7"/>
<circle cx="298.4" cy="212.6" r="2.3" fill="#d98af7"/>
<circle cx="298.4" cy="218.4" r="2.3" fill="#d98af7"/>
<circle cx="298.4" cy="210.8" r="2.3" fill="#d98af7"/>
<line x1="268.90" y1="200.50" x2="298.40" y2="193.10" stroke="#111" stroke-width="1.1"/>
<line x1="268.90" y1="205.00" x2="298.40" y2="203.00" stroke="#111" stroke-width="1.1"/>
<line x1="268.90" y1="206.00" x2="298.40" y2="203.70" stroke="#111" stroke-width="1.1"/>
<line x1="268.90" y1="214.30" x2="298.40" y2="212.60" stroke="#111" stroke-width="1.1"/>
<line x1="268.90" y1="221.50" x2="298.40" y2="218.40" stroke="#111" stroke-width="1.1"/>
<line x1="268.90" y1="231.90" x2="298.40" y2="210.80" stroke="#111" stroke-width="1.1"/>
<polyline points="269.10,181.70 269.10,178.50 298.70,178.50 298.70,181.70" fill="none" stroke="#111" stroke-width="1.1"/>
<polygon points="283.70,171.60 284.17,172.75 285.41,172.84 284.46,173.65 284.76,174.86 283.70,174.20 282.64,174.86 282.94,173.65 281.99,172.84 283.23,172.75" fill="#111" stroke="none" stroke-width="1"/>
<text x="272.50" y="296.30" font-size="8.4" font-weight="bold" text-anchor="end" fill="#111" stroke="#111" stroke-width="0.18" transform="rotate(-45 272.5 296.3)">Control</text>
<text x="302.00" y="296.60" font-size="8.4" font-weight="bold" text-anchor="end" fill="#111" stroke="#111" stroke-width="0.18" transform="rotate(-45 302 296.6)">CXCL12</text>
<text x="366.30" y="173.60" font-size="15.4" font-weight="bold" text-anchor="start" fill="#111" stroke="#111" stroke-width="0.18">E</text>
<text x="495.00" y="163.40" font-size="7.7" font-weight="bold" text-anchor="middle" fill="#111" stroke="#111" stroke-width="0.18">CXCL12</text>
<line x1="495.00" y1="167.30" x2="495.00" y2="174.00" stroke="#111" stroke-width="1.0"/>
<polygon points="495.00,177.50 493.00,173.50 497.00,173.50" fill="#111" stroke="none" stroke-width="1"/>
<polyline points="468.00,187.50 468.00,178.30 520.70,178.30 520.70,227.00" fill="none" stroke="#111" stroke-width="1.0"/>
<polygon points="468.00,189.70 466.00,185.50 470.00,185.50" fill="#111" stroke="none" stroke-width="1"/>
<polygon points="520.70,229.50 518.70,225.30 522.70,225.30" fill="#111" stroke="none" stroke-width="1"/>
<rect x="455.30" y="190.60" width="25.60" height="39.60" fill="#ecfbe4" stroke="#8ee86a" stroke-width="1.0" rx="3"/>
<text x="468.00" y="201.70" font-size="7.7" font-weight="bold" text-anchor="middle" fill="#111" stroke="#111" stroke-width="0.18">PI3K</text>
<line x1="467.80" y1="205.00" x2="467.80" y2="211.00" stroke="#111" stroke-width="1.0"/>
<polygon points="467.80,214.50 465.80,210.50 469.80,210.50" fill="#111" stroke="none" stroke-width="1"/>
<text x="468.00" y="225.10" font-size="7.7" font-weight="bold" text-anchor="middle" fill="#111" stroke="#111" stroke-width="0.18">AKT</text>
<line x1="467.70" y1="230.20" x2="467.70" y2="239.00" stroke="#111" stroke-width="1.0"/>
<polygon points="467.70,242.50 465.70,238.50 469.70,238.50" fill="#111" stroke="none" stroke-width="1"/>
<rect x="451.20" y="243.50" width="36.40" height="18.20" fill="#e9f3fa" stroke="#86e2f8" stroke-width="1.0" rx="3"/>
<text x="469.40" y="255.60" font-size="7.7" font-weight="bold" text-anchor="middle" fill="#111" stroke="#111" stroke-width="0.18">mTORC1</text>
<line x1="467.70" y1="261.70" x2="467.70" y2="271.80" stroke="#111" stroke-width="1.0"/>
<polygon points="467.70,275.30 465.70,271.30 469.70,271.30" fill="#111" stroke="none" stroke-width="1"/>
<rect x="455.00" y="276.00" width="27.90" height="15.40" fill="#eceef9" stroke="#a5a8f5" stroke-width="1.0" rx="3"/>
<text x="469.00" y="286.90" font-size="7.7" font-weight="bold" text-anchor="middle" fill="#111" stroke="#111" stroke-width="0.18">S6</text>
<rect x="506.10" y="230.40" width="30.40" height="15.20" fill="#fcf3ea" stroke="#efae6d" stroke-width="1.0" rx="3"/>
<text x="521.30" y="241.10" font-size="7.7" font-weight="bold" text-anchor="middle" fill="#111" stroke="#111" stroke-width="0.18">ERK</text>
<polyline points="468.60,291.40 468.60,302.00 521.70,302.00 521.70,245.60" fill="none" stroke="#111" stroke-width="1.0"/>
<line x1="496.80" y1="302.00" x2="496.80" y2="308.20" stroke="#111" stroke-width="1.0"/>
<polygon points="496.80,311.70 494.80,307.70 498.80,307.70" fill="#111" stroke="none" stroke-width="1"/>
<text x="496.00" y="323.20" font-size="7.7" font-weight="bold" text-anchor="middle" fill="#111" stroke="#111" stroke-width="0.18">F-Actin</text>
<rect x="401.40" y="192.10" width="34.20" height="12.50" fill="#fff" stroke="#fb3a30" stroke-width="1.1" rx="0"/>
<text x="418.50" y="200.55" font-size="6.0" font-weight="bold" text-anchor="middle" fill="#222" stroke="#222" stroke-width="0.18">LY294002</text>
<line x1="435.60" y1="199.05" x2="449.60" y2="199.05" stroke="#fb3a30" stroke-width="1.1"/>
<line x1="449.60" y1="195.05" x2="449.60" y2="203.05" stroke="#fb3a30" stroke-width="1.3"/>
<rect x="405.60" y="216.40" width="30.00" height="11.40" fill="#fff" stroke="#fb3a30" stroke-width="1.1" rx="0"/>
<text x="420.60" y="224.30" font-size="6.0" font-weight="bold" text-anchor="middle" fill="#222" stroke="#222" stroke-width="0.18">MK-2006</text>
<line x1="435.60" y1="222.10" x2="449.60" y2="222.10" stroke="#fb3a30" stroke-width="1.1"/>
<line x1="449.60" y1="218.10" x2="449.60" y2="226.10" stroke="#fb3a30" stroke-width="1.3"/>
<rect x="393.40" y="247.20" width="39.00" height="11.00" fill="#fff" stroke="#fb3a30" stroke-width="1.1" rx="0"/>
<text x="412.90" y="254.90" font-size="6.0" font-weight="bold" text-anchor="middle" fill="#222" stroke="#222" stroke-width="0.18">Rapamycin</text>
<line x1="432.40" y1="252.70" x2="447.30" y2="252.70" stroke="#fb3a30" stroke-width="1.1"/>
<line x1="447.30" y1="248.70" x2="447.30" y2="256.70" stroke="#fb3a30" stroke-width="1.3"/>
<rect x="555.90" y="231.80" width="39.70" height="11.40" fill="#fff" stroke="#fb3a30" stroke-width="1.1" rx="0"/>
<text x="575.75" y="239.70" font-size="6.0" font-weight="bold" text-anchor="middle" fill="#222" stroke="#222" stroke-width="0.18">SCH772984</text>
<line x1="541.90" y1="237.50" x2="555.90" y2="237.50" stroke="#fb3a30" stroke-width="1.1"/>
<line x1="541.90" y1="233.70" x2="541.90" y2="241.30" stroke="#fb3a30" stroke-width="1.3"/>
<text x="4.30" y="349.90" font-size="15.4" font-weight="bold" text-anchor="start" fill="#111" stroke="#111" stroke-width="0.18">F</text>
<rect x="36.50" y="352.50" width="128.90" height="128.80" fill="#fff" stroke="#5a5a5a" stroke-width="1" rx="0"/>
<line x1="37.00" y1="378.40" x2="164.90" y2="378.40" stroke="#c9a0a4" stroke-width="0.5" opacity="0.4"/>
<polygon points="100.00,378.40 100.00,378.40 100.50,378.40 101.00,378.40 101.50,378.40 102.00,378.40 102.50,378.40 103.00,378.40 103.50,378.40 104.00,378.40 104.50,378.40 105.00,378.40 105.50,378.40 106.00,378.40 106.50,378.40 107.00,378.40 107.50,378.40 108.00,378.40 108.50,378.40 109.00,378.40 109.50,378.40 110.00,378.40 110.50,378.40 111.00,378.40 111.50,378.40 112.00,378.40 112.50,378.40 113.00,377.11 113.50,377.96 114.00,377.87 114.50,377.75 115.00,377.78 115.50,378.07 116.00,377.90 116.50,378.37 117.00,378.00 117.50,377.57 118.00,377.31 118.50,377.30 119.00,377.88 119.50,377.14 120.00,377.35 120.50,378.34 121.00,377.12 121.50,377.47 122.00,377.36 122.50,377.66 123.00,377.14 123.50,377.21 124.00,377.08 124.50,377.48 125.00,378.33 125.50,378.18 126.00,377.89 126.50,377.12 127.00,377.36 127.50,377.26 128.00,378.12 128.50,376.82 129.00,377.19 129.50,377.00 130.00,376.66 130.50,377.34 131.00,376.32 131.50,375.62 132.00,376.10 132.50,375.71 133.00,375.09 133.50,375.43 134.00,375.63 134.50,375.05 135.00,374.86 135.50,373.88 136.00,373.47 136.50,372.22 137.00,370.57 137.50,368.50 138.00,366.65 138.50,364.76 139.00,363.24 139.50,361.22 140.00,359.67 140.50,358.33 141.00,357.64 141.50,356.13 142.00,356.40 142.50,355.43 143.00,355.44 143.50,356.48 144.00,356.57 144.50,357.36 145.00,359.03 145.50,361.97 146.00,364.98 146.50,368.02 147.00,370.13 147.50,373.33 148.00,374.92 148.50,376.57 149.00,377.31 149.50,377.80 150.00,378.16 150.50,378.30 151.00,378.36 151.50,378.39 152.00,378.40 152.50,378.40 153.00,378.40 153.50,378.40 154.00,378.40 154.50,378.40 155.00,378.40 155.50,378.40 156.00,378.40 156.50,378.40 157.00,378.40 157.50,378.40 158.00,378.40 158.50,378.40 159.00,378.40 159.50,378.40 160.00,378.40 160.00,378.40" fill="#ead6d8" stroke="none" stroke-width="1"/>
<polyline points="113.00,377.11 113.50,377.96 114.00,377.87 114.50,377.75 115.00,377.78 115.50,378.07 116.00,377.90" fill="none" stroke="#c9a0a4" stroke-width="0.8" stroke-linejoin="round"/>
<polyline points="117.00,378.00 117.50,377.57 118.00,377.31 118.50,377.30 119.00,377.88 119.50,377.14 120.00,377.35" fill="none" stroke="#c9a0a4" stroke-width="0.8" stroke-linejoin="round"/>
<polyline points="121.00,377.12 121.50,377.47 122.00,377.36 122.50,377.66 123.00,377.14 123.50,377.21 124.00,377.08 124.50,377.48" fill="none" stroke="#c9a0a4" stroke-width="0.8" stroke-linejoin="round"/>
<polyline points="126.00,377.89 126.50,377.12 127.00,377.36 127.50,377.26 128.00,378.12 128.50,376.82 129.00,377.19 129.50,377.00 130.00,376.66 130.50,377.34 131.00,376.32 131.50,375.62 132.00,376.10 132.50,375.71 133.00,375.09 133.50,375.43 134.00,375.63 134.50,375.05 135.00,374.86 135.50,373.88 136.00,373.47 136.50,372.22 137.00,370.57 137.50,368.50 138.00,366.65 138.50,364.76 139.00,363.24 139.50,361.22 140.00,359.67 140.50,358.33 141.00,357.64 141.50,356.13 142.00,356.40 142.50,355.43 143.00,355.44 143.50,356.48 144.00,356.57 144.50,357.36 145.00,359.03 145.50,361.97 146.00,364.98 146.50,368.02 147.00,370.13 147.50,373.33 148.00,374.92 148.50,376.57 149.00,377.31 149.50,377.80" fill="none" stroke="#c9a0a4" stroke-width="0.8" stroke-linejoin="round"/>
<line x1="37.00" y1="404.20" x2="164.90" y2="404.20" stroke="#4f7f38" stroke-width="0.5" opacity="0.4"/>
<polygon points="100.00,404.20 100.00,404.20 100.50,404.20 101.00,404.20 101.50,404.20 102.00,404.20 102.50,404.20 103.00,404.20 103.50,404.20 104.00,404.20 104.50,404.20 105.00,404.20 105.50,404.20 106.00,404.20 106.50,404.20 107.00,404.20 107.50,404.20 108.00,404.20 108.50,404.20 109.00,404.20 109.50,404.20 110.00,404.03 110.50,403.13 111.00,402.99 111.50,403.87 112.00,403.64 112.50,404.20 113.00,403.57 113.50,403.84 114.00,403.77 114.50,403.24 115.00,403.14 115.50,404.04 116.00,402.93 116.50,403.09 117.00,403.73 117.50,402.87 118.00,403.74 118.50,403.88 119.00,404.07 119.50,403.17 120.00,403.06 120.50,403.85 121.00,403.95 121.50,403.66 122.00,402.96 122.50,403.29 123.00,402.96 123.50,403.37 124.00,403.25 124.50,403.17 125.00,403.85 125.50,403.08 126.00,403.56 126.50,403.71 127.00,402.90 127.50,403.24 128.00,403.27 128.50,403.71 129.00,403.42 129.50,403.06 130.00,402.03 130.50,402.80 131.00,402.90 131.50,402.49 132.00,402.25 132.50,401.09 133.00,400.83 133.50,400.76 134.00,400.51 134.50,400.47 135.00,398.89 135.50,399.13 136.00,398.25 136.50,397.12 137.00,396.69 137.50,395.39 138.00,394.01 138.50,392.35 139.00,390.75 139.50,388.69 140.00,387.35 140.50,386.06 141.00,385.92 141.50,385.30 142.00,384.58 142.50,385.14 143.00,386.87 143.50,388.42 144.00,390.90 144.50,392.48 145.00,393.88 145.50,395.80 146.00,397.40 146.50,398.70 147.00,400.61 147.50,401.62 148.00,402.29 148.50,402.69 149.00,403.10 149.50,403.40 150.00,403.69 150.50,403.87 151.00,403.99 151.50,404.07 152.00,404.12 152.50,404.15 153.00,404.17 153.50,404.18 154.00,404.19 154.50,404.19 155.00,404.20 155.50,404.20 156.00,404.20 156.50,404.20 157.00,404.20 157.50,404.20 158.00,404.20 158.50,404.20 159.00,404.20 159.50,404.20 160.00,404.20 160.00,404.20" fill="#96b886" stroke="none" stroke-width="1"/>
<polyline points="110.50,403.13 111.00,402.99 111.50,403.87 112.00,403.64" fill="none" stroke="#4f7f38" stroke-width="0.8" stroke-linejoin="round"/>
<polyline points="113.00,403.57 113.50,403.84 114.00,403.77 114.50,403.24 115.00,403.14" fill="none" stroke="#4f7f38" stroke-width="0.8" stroke-linejoin="round"/>
<polyline points="116.00,402.93 116.50,403.09 117.00,403.73 117.50,402.87 118.00,403.74 118.50,403.88" fill="none" stroke="#4f7f38" stroke-width="0.8" stroke-linejoin="round"/>
<polyline points="119.50,403.17 120.00,403.06 120.50,403.85" fill="none" stroke="#4f7f38" stroke-width="0.8" stroke-linejoin="round"/>
<polyline points="121.50,403.66 122.00,402.96 122.50,403.29 123.00,402.96 123.50,403.37 124.00,403.25 124.50,403.17 125.00,403.85 125.50,403.08 126.00,403.56 126.50,403.71 127.00,402.90 127.50,403.24 128.00,403.27 128.50,403.71 129.00,403.42 129.50,403.06 130.00,402.03 130.50,402.80 131.00,402.90 131.50,402.49 132.00,402.25 132.50,401.09 133.00,400.83 133.50,400.76 134.00,400.51 134.50,400.47 135.00,398.89 135.50,399.13 136.00,398.25 136.50,397.12 137.00,396.69 137.50,395.39 138.00,394.01 138.50,392.35 139.00,390.75 139.50,388.69 140.00,387.35 140.50,386.06 141.00,385.92 141.50,385.30 142.00,384.58 142.50,385.14 143.00,386.87 143.50,388.42 144.00,390.90 144.50,392.48 145.00,393.88 145.50,395.80 146.00,397.40 146.50,398.70 147.00,400.61 147.50,401.62 148.00,402.29 148.50,402.69 149.00,403.10 149.50,403.40 150.00,403.69 150.50,403.87" fill="none" stroke="#4f7f38" stroke-width="0.8" stroke-linejoin="round"/>
<line x1="37.00" y1="430.00" x2="164.90" y2="430.00" stroke="#78e43c" stroke-width="0.5" opacity="0.4"/>
<polygon points="100.00,430.00 100.00,429.32 100.50,429.56 101.00,429.34 101.50,429.14 102.00,429.73 102.50,429.88 103.00,429.77 103.50,429.40 104.00,429.90 104.50,429.94 105.00,429.52 105.50,429.67 106.00,429.53 106.50,429.73 107.00,429.54 107.50,429.36 108.00,429.60 108.50,429.78 109.00,429.09 109.50,429.72 110.00,429.98 110.50,429.53 111.00,429.64 111.50,429.33 112.00,429.79 112.50,429.97 113.00,429.70 113.50,429.43 114.00,429.23 114.50,429.57 115.00,429.15 115.50,429.29 116.00,429.77 116.50,429.31 117.00,429.08 117.50,429.74 118.00,429.69 118.50,429.16 119.00,429.67 119.50,429.50 120.00,429.60 120.50,429.56 121.00,428.58 121.50,428.60 122.00,428.53 122.50,428.92 123.00,428.58 123.50,428.38 124.00,428.51 124.50,428.66 125.00,428.26 125.50,427.61 126.00,427.31 126.50,427.11 127.00,426.56 127.50,426.76 128.00,425.51 128.50,425.97 129.00,425.08 129.50,423.69 130.00,423.57 130.50,422.10 131.00,420.52 131.50,419.38 132.00,418.96 132.50,417.91 133.00,416.98 133.50,415.41 134.00,415.55 134.50,414.73 135.00,414.43 135.50,414.96 136.00,415.15 136.50,414.84 137.00,415.88 137.50,417.25 138.00,418.09 138.50,420.00 139.00,421.66 139.50,423.55 140.00,424.33 140.50,425.54 141.00,427.00 141.50,427.79 142.00,428.85 142.50,429.24 143.00,429.52 143.50,429.73 144.00,429.85 144.50,429.92 145.00,429.96 145.50,429.98 146.00,429.99 146.50,430.00 147.00,430.00 147.50,430.00 148.00,430.00 148.50,430.00 149.00,430.00 149.50,430.00 150.00,430.00 150.50,430.00 151.00,430.00 151.50,430.00 152.00,430.00 152.50,430.00 153.00,430.00 153.50,430.00 154.00,430.00 154.50,430.00 155.00,430.00 155.50,430.00 156.00,430.00 156.50,430.00 157.00,430.00 157.50,430.00 158.00,430.00 158.50,430.00 159.00,430.00 159.50,430.00 160.00,430.00 160.00,430.00" fill="#c4f8a8" stroke="none" stroke-width="1"/>
<polyline points="100.00,429.32 100.50,429.56 101.00,429.34 101.50,429.14 102.00,429.73" fill="none" stroke="#78e43c" stroke-width="0.8" stroke-linejoin="round"/>
<polyline points="105.00,429.52 105.50,429.67 106.00,429.53 106.50,429.73 107.00,429.54 107.50,429.36 108.00,429.60" fill="none" stroke="#78e43c" stroke-width="0.8" stroke-linejoin="round"/>
<polyline points="109.00,429.09 109.50,429.72" fill="none" stroke="#78e43c" stroke-width="0.8" stroke-linejoin="round"/>
<polyline points="110.50,429.53 111.00,429.64 111.50,429.33" fill="none" stroke="#78e43c" stroke-width="0.8" stroke-linejoin="round"/>
<polyline points="113.00,429.70 113.50,429.43 114.00,429.23 114.50,429.57 115.00,429.15 115.50,429.29" fill="none" stroke="#78e43c" stroke-width="0.8" stroke-linejoin="round"/>
<polyline points="116.50,429.31 117.00,429.08 117.50,429.74 118.00,429.69 118.50,429.16 119.00,429.67 119.50,429.50 120.00,429.60 120.50,429.56 121.00,428.58 121.50,428.60 122.00,428.53 122.50,428.92 123.00,428.58 123.50,428.38 124.00,428.51 124.50,428.66 125.00,428.26 125.50,427.61 126.00,427.31 126.50,427.11 127.00,426.56 127.50,426.76 128.00,425.51 128.50,425.97 129.00,425.08 129.50,423.69 130.00,423.57 130.50,422.10 131.00,420.52 131.50,419.38 132.00,418.96 132.50,417.91 133.00,416.98 133.50,415.41 134.00,415.55 134.50,414.73 135.00,414.43 135.50,414.96 136.00,415.15 136.50,414.84 137.00,415.88 137.50,417.25 138.00,418.09 138.50,420.00 139.00,421.66 139.50,423.55 140.00,424.33 140.50,425.54 141.00,427.00 141.50,427.79 142.00,428.85 142.50,429.24 143.00,429.52 143.50,429.73" fill="none" stroke="#78e43c" stroke-width="0.8" stroke-linejoin="round"/>
<line x1="37.00" y1="455.20" x2="164.90" y2="455.20" stroke="#4cd8f6" stroke-width="0.5" opacity="0.4"/>
<polygon points="100.00,455.20 100.00,455.20 100.50,455.20 101.00,455.20 101.50,455.20 102.00,455.20 102.50,455.20 103.00,455.20 103.50,455.20 104.00,454.13 104.50,454.84 105.00,454.77 105.50,454.34 106.00,454.35 106.50,454.32 107.00,454.61 107.50,454.89 108.00,454.49 108.50,454.99 109.00,454.48 109.50,455.11 110.00,455.14 110.50,454.63 111.00,454.07 111.50,454.21 112.00,455.03 112.50,455.00 113.00,454.53 113.50,454.63 114.00,454.56 114.50,454.22 115.00,454.01 115.50,454.68 116.00,454.47 116.50,454.28 117.00,454.48 117.50,454.38 118.00,453.54 118.50,454.07 119.00,453.27 119.50,453.84 120.00,453.20 120.50,453.88 121.00,452.87 121.50,453.13 122.00,453.57 122.50,453.20 123.00,452.69 123.50,452.87 124.00,453.04 124.50,452.20 125.00,453.06 125.50,452.73 126.00,452.96 126.50,452.97 127.00,452.21 127.50,452.88 128.00,452.06 128.50,452.45 129.00,451.97 129.50,451.59 130.00,450.39 130.50,449.91 131.00,449.55 131.50,448.56 132.00,447.19 132.50,445.86 133.00,444.50 133.50,443.70 134.00,442.22 134.50,440.26 135.00,439.12 135.50,437.87 136.00,436.59 136.50,434.86 137.00,434.70 137.50,434.17 138.00,435.02 138.50,436.02 139.00,436.89 139.50,438.23 140.00,440.41 140.50,442.14 141.00,443.15 141.50,445.15 142.00,446.72 142.50,447.10 143.00,448.73 143.50,449.36 144.00,450.68 144.50,451.01 145.00,452.09 145.50,452.85 146.00,453.38 146.50,453.51 147.00,453.82 147.50,454.04 148.00,454.46 148.50,454.53 149.00,454.72 149.50,454.81 150.00,454.90 150.50,454.98 151.00,455.03 151.50,455.07 152.00,455.11 152.50,455.13 153.00,455.15 153.50,455.16 154.00,455.17 154.50,455.18 155.00,455.19 155.50,455.19 156.00,455.19 156.50,455.19 157.00,455.20 157.50,455.20 158.00,455.20 158.50,455.20 159.00,455.20 159.50,455.20 160.00,455.20 160.00,455.20" fill="#b4f2fe" stroke="none" stroke-width="1"/>
<polyline points="104.00,454.13 104.50,454.84 105.00,454.77 105.50,454.34 106.00,454.35 106.50,454.32 107.00,454.61 107.50,454.89 108.00,454.49" fill="none" stroke="#4cd8f6" stroke-width="0.8" stroke-linejoin="round"/>
<polyline points="110.50,454.63 111.00,454.07 111.50,454.21" fill="none" stroke="#4cd8f6" stroke-width="0.8" stroke-linejoin="round"/>
<polyline points="113.00,454.53 113.50,454.63 114.00,454.56 114.50,454.22 115.00,454.01 115.50,454.68 116.00,454.47 116.50,454.28 117.00,454.48 117.50,454.38 118.00,453.54 118.50,454.07 119.00,453.27 119.50,453.84 120.00,453.20 120.50,453.88 121.00,452.87 121.50,453.13 122.00,453.57 122.50,453.20 123.00,452.69 123.50,452.87 124.00,453.04 124.50,452.20 125.00,453.06 125.50,452.73 126.00,452.96 126.50,452.97 127.00,452.21 127.50,452.88 128.00,452.06 128.50,452.45 129.00,451.97 129.50,451.59 130.00,450.39 130.50,449.91 131.00,449.55 131.50,448.56 132.00,447.19 132.50,445.86 133.00,444.50 133.50,443.70 134.00,442.22 134.50,440.26 135.00,439.12 135.50,437.87 136.00,436.59 136.50,434.86 137.00,434.70 137.50,434.17 138.00,435.02 138.50,436.02 139.00,436.89 139.50,438.23 140.00,440.41 140.50,442.14 141.00,443.15 141.50,445.15 142.00,446.72 142.50,447.10 143.00,448.73 143.50,449.36 144.00,450.68 144.50,451.01 145.00,452.09 145.50,452.85 146.00,453.38 146.50,453.51 147.00,453.82 147.50,454.04 148.00,454.46 148.50,454.53 149.00,454.72 149.50,454.81 150.00,454.90" fill="none" stroke="#4cd8f6" stroke-width="0.8" stroke-linejoin="round"/>
<line x1="37.00" y1="481.30" x2="164.90" y2="481.30" stroke="#e8943e" stroke-width="0.5" opacity="0.4"/>
<polygon points="100.00,481.30 100.00,481.20 100.50,481.10 101.00,480.90 101.50,481.22 102.00,480.93 102.50,480.67 103.00,481.21 103.50,480.56 104.00,481.00 104.50,480.67 105.00,480.65 105.50,480.77 106.00,480.79 106.50,481.02 107.00,480.66 107.50,481.17 108.00,481.15 108.50,481.02 109.00,480.95 109.50,481.21 110.00,481.13 110.50,480.74 111.00,481.27 111.50,480.88 112.00,481.27 112.50,480.77 113.00,480.88 113.50,480.88 114.00,481.01 114.50,480.90 115.00,480.84 115.50,481.03 116.00,480.87 116.50,481.14 117.00,480.73 117.50,481.00 118.00,481.00 118.50,481.21 119.00,481.03 119.50,480.99 120.00,481.27 120.50,480.90 121.00,480.75 121.50,480.98 122.00,480.96 122.50,480.69 123.00,480.63 123.50,480.75 124.00,481.16 124.50,480.61 125.00,480.56 125.50,481.18 126.00,480.68 126.50,481.24 127.00,481.04 127.50,480.78 128.00,480.64 128.50,481.17 129.00,481.06 129.50,480.86 130.00,480.69 130.50,480.23 131.00,479.50 131.50,479.07 132.00,478.08 132.50,476.61 133.00,475.30 133.50,473.90 134.00,471.98 134.50,470.26 135.00,467.91 135.50,466.91 136.00,465.88 136.50,466.33 137.00,466.02 137.50,467.56 138.00,468.49 138.50,470.05 139.00,472.16 139.50,473.48 140.00,475.50 140.50,476.97 141.00,477.98 141.50,479.43 142.00,479.77 142.50,480.41 143.00,480.79 143.50,480.97 144.00,481.13 144.50,481.21 145.00,481.25 145.50,481.28 146.00,481.29 146.50,481.29 147.00,481.30 147.50,481.30 148.00,481.30 148.50,481.30 149.00,481.30 149.50,481.30 150.00,481.30 150.50,481.30 151.00,481.30 151.50,481.30 152.00,481.30 152.50,481.30 153.00,481.30 153.50,481.30 154.00,481.30 154.50,481.30 155.00,481.30 155.50,481.30 156.00,481.30 156.50,481.30 157.00,481.30 157.50,481.30 158.00,481.30 158.50,481.30 159.00,481.30 159.50,481.30 160.00,481.30 160.00,481.30" fill="#f3c794" stroke="none" stroke-width="1"/>
<polyline points="102.00,480.93 102.50,480.67" fill="none" stroke="#e8943e" stroke-width="0.8" stroke-linejoin="round"/>
<polyline points="103.50,480.56 104.00,481.00 104.50,480.67 105.00,480.65 105.50,480.77 106.00,480.79 106.50,481.02 107.00,480.66" fill="none" stroke="#e8943e" stroke-width="0.8" stroke-linejoin="round"/>
<polyline points="108.50,481.02 109.00,480.95" fill="none" stroke="#e8943e" stroke-width="0.8" stroke-linejoin="round"/>
<polyline points="112.50,480.77 113.00,480.88 113.50,480.88 114.00,481.01 114.50,480.90 115.00,480.84 115.50,481.03 116.00,480.87" fill="none" stroke="#e8943e" stroke-width="0.8" stroke-linejoin="round"/>
<polyline points="117.00,480.73 117.50,481.00 118.00,481.00" fill="none" stroke="#e8943e" stroke-width="0.8" stroke-linejoin="round"/>
<polyline points="119.00,481.03 119.50,480.99" fill="none" stroke="#e8943e" stroke-width="0.8" stroke-linejoin="round"/>
<polyline points="120.50,480.90 121.00,480.75 121.50,480.98 122.00,480.96 122.50,480.69 123.00,480.63 123.50,480.75" fill="none" stroke="#e8943e" stroke-width="0.8" stroke-linejoin="round"/>
<polyline points="124.50,480.61 125.00,480.56" fill="none" stroke="#e8943e" stroke-width="0.8" stroke-linejoin="round"/>
<polyline points="127.00,481.04 127.50,480.78 128.00,480.64" fill="none" stroke="#e8943e" stroke-width="0.8" stroke-linejoin="round"/>
<polyline points="129.50,480.86 130.00,480.69 130.50,480.23 131.00,479.50 131.50,479.07 132.00,478.08 132.50,476.61 133.00,475.30 133.50,473.90 134.00,471.98 134.50,470.26 135.00,467.91 135.50,466.91 136.00,465.88 136.50,466.33 137.00,466.02 137.50,467.56 138.00,468.49 138.50,470.05 139.00,472.16 139.50,473.48 140.00,475.50 140.50,476.97 141.00,477.98 141.50,479.43 142.00,479.77 142.50,480.41 143.00,480.79 143.50,480.97" fill="none" stroke="#e8943e" stroke-width="0.8" stroke-linejoin="round"/>
<rect x="36.50" y="352.50" width="128.90" height="128.80" fill="none" stroke="#5a5a5a" stroke-width="1" rx="0"/>
<line x1="44.30" y1="481.60" x2="44.30" y2="484.80" stroke="#333" stroke-width="0.9"/>
<line x1="64.70" y1="481.60" x2="64.70" y2="484.80" stroke="#333" stroke-width="0.9"/>
<line x1="89.30" y1="481.60" x2="89.30" y2="484.80" stroke="#333" stroke-width="0.9"/>
<line x1="122.00" y1="481.60" x2="122.00" y2="484.80" stroke="#333" stroke-width="0.9"/>
<line x1="152.60" y1="481.60" x2="152.60" y2="484.80" stroke="#333" stroke-width="0.9"/>
<line x1="46.34" y1="481.60" x2="46.34" y2="483.40" stroke="#333" stroke-width="0.6"/>
<line x1="67.16" y1="481.60" x2="67.16" y2="483.40" stroke="#333" stroke-width="0.6"/>
<line x1="48.38" y1="481.60" x2="48.38" y2="483.40" stroke="#333" stroke-width="0.6"/>
<line x1="69.62" y1="481.60" x2="69.62" y2="483.40" stroke="#333" stroke-width="0.6"/>
<line x1="50.42" y1="481.60" x2="50.42" y2="483.40" stroke="#333" stroke-width="0.6"/>
<line x1="72.08" y1="481.60" x2="72.08" y2="483.40" stroke="#333" stroke-width="0.6"/>
<line x1="52.46" y1="481.60" x2="52.46" y2="483.40" stroke="#333" stroke-width="0.6"/>
<line x1="74.54" y1="481.60" x2="74.54" y2="483.40" stroke="#333" stroke-width="0.6"/>
<line x1="54.50" y1="481.60" x2="54.50" y2="483.40" stroke="#333" stroke-width="0.6"/>
<line x1="77.00" y1="481.60" x2="77.00" y2="483.40" stroke="#333" stroke-width="0.6"/>
<line x1="56.54" y1="481.60" x2="56.54" y2="483.40" stroke="#333" stroke-width="0.6"/>
<line x1="79.46" y1="481.60" x2="79.46" y2="483.40" stroke="#333" stroke-width="0.6"/>
<line x1="58.58" y1="481.60" x2="58.58" y2="483.40" stroke="#333" stroke-width="0.6"/>
<line x1="81.92" y1="481.60" x2="81.92" y2="483.40" stroke="#333" stroke-width="0.6"/>
<line x1="60.62" y1="481.60" x2="60.62" y2="483.40" stroke="#333" stroke-width="0.6"/>
<line x1="84.38" y1="481.60" x2="84.38" y2="483.40" stroke="#333" stroke-width="0.6"/>
<line x1="62.66" y1="481.60" x2="62.66" y2="483.40" stroke="#333" stroke-width="0.6"/>
<line x1="86.84" y1="481.60" x2="86.84" y2="483.40" stroke="#333" stroke-width="0.6"/>
<line x1="99.14" y1="481.60" x2="99.14" y2="483.40" stroke="#333" stroke-width="0.6"/>
<line x1="104.90" y1="481.60" x2="104.90" y2="483.40" stroke="#333" stroke-width="0.6"/>
<line x1="108.99" y1="481.60" x2="108.99" y2="483.40" stroke="#333" stroke-width="0.6"/>
<line x1="112.16" y1="481.60" x2="112.16" y2="483.40" stroke="#333" stroke-width="0.6"/>
<line x1="114.75" y1="481.60" x2="114.75" y2="483.40" stroke="#333" stroke-width="0.6"/>
<line x1="116.93" y1="481.60" x2="116.93" y2="483.40" stroke="#333" stroke-width="0.6"/>
<line x1="118.83" y1="481.60" x2="118.83" y2="483.40" stroke="#333" stroke-width="0.6"/>
<line x1="120.50" y1="481.60" x2="120.50" y2="483.40" stroke="#333" stroke-width="0.6"/>
<line x1="131.21" y1="481.60" x2="131.21" y2="483.40" stroke="#333" stroke-width="0.6"/>
<line x1="136.60" y1="481.60" x2="136.60" y2="483.40" stroke="#333" stroke-width="0.6"/>
<line x1="140.42" y1="481.60" x2="140.42" y2="483.40" stroke="#333" stroke-width="0.6"/>
<line x1="143.39" y1="481.60" x2="143.39" y2="483.40" stroke="#333" stroke-width="0.6"/>
<line x1="145.81" y1="481.60" x2="145.81" y2="483.40" stroke="#333" stroke-width="0.6"/>
<line x1="147.86" y1="481.60" x2="147.86" y2="483.40" stroke="#333" stroke-width="0.6"/>
<line x1="149.63" y1="481.60" x2="149.63" y2="483.40" stroke="#333" stroke-width="0.6"/>
<line x1="151.20" y1="481.60" x2="151.20" y2="483.40" stroke="#333" stroke-width="0.6"/>
<line x1="61.70" y1="481.60" x2="61.70" y2="483.40" stroke="#333" stroke-width="0.6"/>
<line x1="62.20" y1="481.60" x2="62.20" y2="483.40" stroke="#333" stroke-width="0.6"/>
<line x1="62.70" y1="481.60" x2="62.70" y2="483.40" stroke="#333" stroke-width="0.6"/>
<line x1="63.20" y1="481.60" x2="63.20" y2="483.40" stroke="#333" stroke-width="0.6"/>
<line x1="63.70" y1="481.60" x2="63.70" y2="483.40" stroke="#333" stroke-width="0.6"/>
<line x1="64.20" y1="481.60" x2="64.20" y2="483.40" stroke="#333" stroke-width="0.6"/>
<line x1="64.70" y1="481.60" x2="64.70" y2="483.40" stroke="#333" stroke-width="0.6"/>
<line x1="65.20" y1="481.60" x2="65.20" y2="483.40" stroke="#333" stroke-width="0.6"/>
<line x1="65.70" y1="481.60" x2="65.70" y2="483.40" stroke="#333" stroke-width="0.6"/>
<line x1="66.20" y1="481.60" x2="66.20" y2="483.40" stroke="#333" stroke-width="0.6"/>
<line x1="66.70" y1="481.60" x2="66.70" y2="483.40" stroke="#333" stroke-width="0.6"/>
<line x1="67.20" y1="481.60" x2="67.20" y2="483.40" stroke="#333" stroke-width="0.6"/>
<line x1="67.70" y1="481.60" x2="67.70" y2="483.40" stroke="#333" stroke-width="0.6"/>
<text x="48.00" y="491.40" font-size="5.0" fill="#333" text-anchor="middle">-10<tspan dy="-2.3" font-size="4.00">3</tspan></text>
<text x="67.80" y="491.40" font-size="5.0" fill="#333" text-anchor="middle">0</text>
<text x="90.30" y="491.40" font-size="5.0" fill="#333" text-anchor="middle">10<tspan dy="-2.3" font-size="4.00">3</tspan></text>
<text x="125.00" y="491.40" font-size="5.0" fill="#333" text-anchor="middle">10<tspan dy="-2.3" font-size="4.00">4</tspan></text>
<text x="155.70" y="491.40" font-size="5.0" fill="#333" text-anchor="middle">10<tspan dy="-2.3" font-size="4.00">5</tspan></text>
<rect x="174.80" y="356.20" width="7.00" height="5.20" fill="#ead6d8" stroke="#d6b4b8" stroke-width="0.8" rx="0"/>
<text x="185.70" y="361.60" font-size="8.0" font-weight="bold" text-anchor="start" fill="#111" stroke="#111" stroke-width="0.18">DMSO</text>
<rect x="174.80" y="366.30" width="7.00" height="5.20" fill="#96b886" stroke="#5e8a48" stroke-width="0.8" rx="0"/>
<text x="185.70" y="371.70" font-size="8.0" font-weight="bold" text-anchor="start" fill="#111" stroke="#111" stroke-width="0.18">LY294002</text>
<rect x="174.80" y="375.70" width="7.00" height="5.20" fill="#c8f8ac" stroke="#86ea52" stroke-width="0.8" rx="0"/>
<text x="185.70" y="381.10" font-size="8.0" font-weight="bold" text-anchor="start" fill="#111" stroke="#111" stroke-width="0.18">MK-2206</text>
<rect x="174.80" y="385.40" width="7.00" height="5.20" fill="#b4f2fe" stroke="#6ce0f8" stroke-width="0.8" rx="0"/>
<text x="185.70" y="390.80" font-size="8.0" font-weight="bold" text-anchor="start" fill="#111" stroke="#111" stroke-width="0.18">Rapamycin</text>
<rect x="174.80" y="395.00" width="7.00" height="5.20" fill="#f3c794" stroke="#eca05a" stroke-width="0.8" rx="0"/>
<text x="185.70" y="400.40" font-size="8.0" font-weight="bold" text-anchor="start" fill="#111" stroke="#111" stroke-width="0.18">SCH772984</text>
<line x1="26.70" y1="443.90" x2="26.70" y2="365.30" stroke="#000" stroke-width="1.3"/>
<polygon points="26.70,357.50 23.00,365.80 30.40,365.80" fill="#000" stroke="none" stroke-width="1"/>
<text x="29.30" y="464.80" font-size="9.1" font-weight="bold" text-anchor="middle" fill="#111" stroke="#111" stroke-width="0.18" transform="rotate(-90 29.3 464.8)">Count</text>
<text x="39.20" y="505.50" font-size="8.5" font-weight="bold" text-anchor="start" fill="#111" stroke="#111" stroke-width="0.18">F-Actin</text>
<line x1="75.00" y1="502.30" x2="157.40" y2="502.30" stroke="#000" stroke-width="1.3"/>
<polygon points="164.90,502.30 156.90,498.80 156.90,505.80" fill="#000" stroke="none" stroke-width="1"/>
<text x="247.70" y="349.95" font-size="15.4" font-weight="bold" text-anchor="start" fill="#111" stroke="#111" stroke-width="0.18">G</text>
<line x1="304.50" y1="365.25" x2="304.50" y2="467.50" stroke="#111" stroke-width="1.2"/>
<line x1="304.50" y1="467.50" x2="455.00" y2="467.50" stroke="#111" stroke-width="1.2"/>
<line x1="300.40" y1="467.50" x2="304.50" y2="467.50" stroke="#111" stroke-width="1.2"/>
<text x="299.20" y="470.20" font-size="7.6" font-weight="bold" text-anchor="end" fill="#111" stroke="#111" stroke-width="0.18">0</text>
<line x1="300.40" y1="447.05" x2="304.50" y2="447.05" stroke="#111" stroke-width="1.2"/>
<text x="299.20" y="449.75" font-size="7.6" font-weight="bold" text-anchor="end" fill="#111" stroke="#111" stroke-width="0.18">10000</text>
<line x1="300.40" y1="426.60" x2="304.50" y2="426.60" stroke="#111" stroke-width="1.2"/>
<text x="299.20" y="429.30" font-size="7.6" font-weight="bold" text-anchor="end" fill="#111" stroke="#111" stroke-width="0.18">20000</text>
<line x1="300.40" y1="406.15" x2="304.50" y2="406.15" stroke="#111" stroke-width="1.2"/>
<text x="299.20" y="408.85" font-size="7.6" font-weight="bold" text-anchor="end" fill="#111" stroke="#111" stroke-width="0.18">30000</text>
<line x1="300.40" y1="385.70" x2="304.50" y2="385.70" stroke="#111" stroke-width="1.2"/>
<text x="299.20" y="388.40" font-size="7.6" font-weight="bold" text-anchor="end" fill="#111" stroke="#111" stroke-width="0.18">40000</text>
<line x1="300.40" y1="365.25" x2="304.50" y2="365.25" stroke="#111" stroke-width="1.2"/>
<text x="299.20" y="367.95" font-size="7.6" font-weight="bold" text-anchor="end" fill="#111" stroke="#111" stroke-width="0.18">50000</text>
<text x="272.10" y="417.00" font-size="9.8" font-weight="bold" text-anchor="middle" fill="#111" stroke="#111" stroke-width="0.18" transform="rotate(-90 272.09999999999997 417)">MFI of F-Actin NK cells</text>
<rect x="314.90" y="428.00" width="17.80" height="39.50" fill="#fff" stroke="#111" stroke-width="1.6" rx="0"/>
<rect x="343.70" y="433.00" width="17.80" height="34.50" fill="#fff" stroke="#111" stroke-width="1.6" rx="0"/>
<rect x="372.60" y="442.30" width="17.80" height="25.20" fill="#fff" stroke="#111" stroke-width="1.6" rx="0"/>
<rect x="401.40" y="436.50" width="17.80" height="31.00" fill="#fff" stroke="#111" stroke-width="1.6" rx="0"/>
<rect x="430.30" y="438.50" width="17.80" height="29.00" fill="#fff" stroke="#111" stroke-width="1.6" rx="0"/>
<line x1="323.80" y1="406.10" x2="323.80" y2="449.30" stroke="#111" stroke-width="1.3"/>
<line x1="319.20" y1="406.10" x2="328.40" y2="406.10" stroke="#111" stroke-width="1.3"/>
<line x1="319.20" y1="449.30" x2="328.40" y2="449.30" stroke="#111" stroke-width="1.3"/>
<line x1="352.60" y1="413.60" x2="352.60" y2="451.20" stroke="#111" stroke-width="1.3"/>
<line x1="348.00" y1="413.60" x2="357.20" y2="413.60" stroke="#111" stroke-width="1.3"/>
<line x1="348.00" y1="451.20" x2="357.20" y2="451.20" stroke="#111" stroke-width="1.3"/>
<line x1="381.50" y1="430.20" x2="381.50" y2="453.40" stroke="#111" stroke-width="1.3"/>
<line x1="376.90" y1="430.20" x2="386.10" y2="430.20" stroke="#111" stroke-width="1.3"/>
<line x1="376.90" y1="453.40" x2="386.10" y2="453.40" stroke="#111" stroke-width="1.3"/>
<line x1="410.30" y1="421.30" x2="410.30" y2="450.40" stroke="#111" stroke-width="1.3"/>
<line x1="405.70" y1="421.30" x2="414.90" y2="421.30" stroke="#111" stroke-width="1.3"/>
<line x1="405.70" y1="450.40" x2="414.90" y2="450.40" stroke="#111" stroke-width="1.3"/>
<line x1="439.20" y1="425.00" x2="439.20" y2="450.50" stroke="#111" stroke-width="1.3"/>
<line x1="434.60" y1="425.00" x2="443.80" y2="425.00" stroke="#111" stroke-width="1.3"/>
<line x1="434.60" y1="450.50" x2="443.80" y2="450.50" stroke="#111" stroke-width="1.3"/>
<line x1="323.80" y1="467.50" x2="323.80" y2="471.80" stroke="#111" stroke-width="1.2"/>
<line x1="352.60" y1="467.50" x2="352.60" y2="471.80" stroke="#111" stroke-width="1.2"/>
<line x1="381.50" y1="467.50" x2="381.50" y2="471.80" stroke="#111" stroke-width="1.2"/>
<line x1="410.30" y1="467.50" x2="410.30" y2="471.80" stroke="#111" stroke-width="1.2"/>
<line x1="439.20" y1="467.50" x2="439.20" y2="471.80" stroke="#111" stroke-width="1.2"/>
<circle cx="323.70" cy="381.40" r="2.15" fill="#c98bd0"/>
<circle cx="323.60" cy="408.30" r="2.15" fill="#c98bd0"/>
<circle cx="323.60" cy="422.40" r="2.15" fill="#c98bd0"/>
<circle cx="323.60" cy="430.00" r="2.15" fill="#c98bd0"/>
<circle cx="316.20" cy="431.20" r="2.15" fill="#c98bd0"/>
<circle cx="316.20" cy="438.70" r="2.15" fill="#c98bd0"/>
<circle cx="331.60" cy="438.70" r="2.15" fill="#c98bd0"/>
<circle cx="316.20" cy="450.30" r="2.15" fill="#c98bd0"/>
<circle cx="331.60" cy="447.70" r="2.15" fill="#c98bd0"/>
<rect x="350.60" y="387.20" width="4.00" height="4.00" fill="#1f6e1f" stroke="none" stroke-width="1" rx="0"/>
<rect x="350.60" y="421.80" width="4.00" height="4.00" fill="#1f6e1f" stroke="none" stroke-width="1" rx="0"/>
<rect x="343.00" y="424.50" width="4.00" height="4.00" fill="#1f6e1f" stroke="none" stroke-width="1" rx="0"/>
<rect x="350.60" y="428.40" width="4.00" height="4.00" fill="#1f6e1f" stroke="none" stroke-width="1" rx="0"/>
<rect x="343.00" y="439.80" width="4.00" height="4.00" fill="#1f6e1f" stroke="none" stroke-width="1" rx="0"/>
<rect x="350.60" y="440.00" width="4.00" height="4.00" fill="#1f6e1f" stroke="none" stroke-width="1" rx="0"/>
<rect x="358.00" y="439.80" width="4.00" height="4.00" fill="#1f6e1f" stroke="none" stroke-width="1" rx="0"/>
<rect x="358.00" y="444.80" width="4.00" height="4.00" fill="#1f6e1f" stroke="none" stroke-width="1" rx="0"/>
<rect x="343.00" y="448.70" width="4.00" height="4.00" fill="#1f6e1f" stroke="none" stroke-width="1" rx="0"/>
<polygon points="384.00,415.40 381.90,419.60 386.10,419.60" fill="#2ee82e" stroke="none" stroke-width="1"/>
<polygon points="378.80,425.60 376.70,429.80 380.90,429.80" fill="#2ee82e" stroke="none" stroke-width="1"/>
<polygon points="374.00,441.80 371.90,446.00 376.10,446.00" fill="#2ee82e" stroke="none" stroke-width="1"/>
<polygon points="378.80,441.80 376.70,446.00 380.90,446.00" fill="#2ee82e" stroke="none" stroke-width="1"/>
<polygon points="384.30,442.50 382.20,446.69 386.40,446.69" fill="#2ee82e" stroke="none" stroke-width="1"/>
<polygon points="374.00,446.19 371.90,450.39 376.10,450.39" fill="#2ee82e" stroke="none" stroke-width="1"/>
<polygon points="389.00,445.69 386.90,449.89 391.10,449.89" fill="#2ee82e" stroke="none" stroke-width="1"/>
<polygon points="384.30,448.40 382.20,452.60 386.40,452.60" fill="#2ee82e" stroke="none" stroke-width="1"/>
<polygon points="378.80,451.19 376.70,455.39 380.90,455.39" fill="#2ee82e" stroke="none" stroke-width="1"/>
<polygon points="407.90,412.50 405.80,408.31 410.00,408.31" fill="#86eefc" stroke="none" stroke-width="1"/>
<polygon points="412.50,419.00 410.40,414.81 414.60,414.81" fill="#86eefc" stroke="none" stroke-width="1"/>
<polygon points="407.90,429.00 405.80,424.81 410.00,424.81" fill="#86eefc" stroke="none" stroke-width="1"/>
<polygon points="407.90,435.60 405.80,431.40 410.00,431.40" fill="#86eefc" stroke="none" stroke-width="1"/>
<polygon points="402.80,446.50 400.70,442.31 404.90,442.31" fill="#86eefc" stroke="none" stroke-width="1"/>
<polygon points="412.90,445.50 410.80,441.31 415.00,441.31" fill="#86eefc" stroke="none" stroke-width="1"/>
<polygon points="418.00,444.90 415.90,440.70 420.10,440.70" fill="#86eefc" stroke="none" stroke-width="1"/>
<polygon points="407.90,447.90 405.80,443.70 410.00,443.70" fill="#86eefc" stroke="none" stroke-width="1"/>
<polygon points="407.90,455.50 405.80,451.31 410.00,451.31" fill="#86eefc" stroke="none" stroke-width="1"/>
<polygon points="439.00,408.00 441.30,410.30 439.00,412.60 436.70,410.30" fill="#f28a2e" stroke="none" stroke-width="1"/>
<polygon points="439.00,428.70 441.30,431.00 439.00,433.30 436.70,431.00" fill="#f28a2e" stroke="none" stroke-width="1"/>
<polygon points="431.50,431.40 433.80,433.70 431.50,436.00 429.20,433.70" fill="#f28a2e" stroke="none" stroke-width="1"/>
<polygon points="446.60,432.40 448.90,434.70 446.60,437.00 444.30,434.70" fill="#f28a2e" stroke="none" stroke-width="1"/>
<polygon points="439.00,433.50 441.30,435.80 439.00,438.10 436.70,435.80" fill="#f28a2e" stroke="none" stroke-width="1"/>
<polygon points="446.60,442.00 448.90,444.30 446.60,446.60 444.30,444.30" fill="#f28a2e" stroke="none" stroke-width="1"/>
<polygon points="439.00,443.80 441.30,446.10 439.00,448.40 436.70,446.10" fill="#f28a2e" stroke="none" stroke-width="1"/>
<polygon points="446.60,447.90 448.90,450.20 446.60,452.50 444.30,450.20" fill="#f28a2e" stroke="none" stroke-width="1"/>
<polygon points="431.50,450.30 433.80,452.60 431.50,454.90 429.20,452.60" fill="#f28a2e" stroke="none" stroke-width="1"/>
<polyline points="323.50,360.90 323.50,359.30 439.20,359.30 439.20,360.90" fill="none" stroke="#111" stroke-width="1.0"/>
<polygon points="381.30,353.00 381.80,354.31 383.20,354.38 382.11,355.26 382.48,356.62 381.30,355.85 380.12,356.62 380.49,355.26 379.40,354.38 380.80,354.31" fill="#111" stroke="none" stroke-width="1"/>
<polyline points="323.50,368.30 323.50,366.70 410.60,366.70 410.60,368.30" fill="none" stroke="#111" stroke-width="1.0"/>
<polygon points="368.50,361.30 369.00,362.61 370.40,362.68 369.31,363.56 369.68,364.92 368.50,364.15 367.32,364.92 367.69,363.56 366.60,362.68 368.00,362.61" fill="#111" stroke="none" stroke-width="1"/>
<polyline points="323.50,376.90 323.50,375.30 382.30,375.30 382.30,376.90" fill="none" stroke="#111" stroke-width="1.0"/>
<polygon points="350.30,369.70 350.80,371.01 352.20,371.08 351.11,371.96 351.48,373.32 350.30,372.55 349.12,373.32 349.49,371.96 348.40,371.08 349.80,371.01" fill="#111" stroke="none" stroke-width="1"/>
<polygon points="354.30,369.70 354.80,371.01 356.20,371.08 355.11,371.96 355.48,373.32 354.30,372.55 353.12,373.32 353.49,371.96 352.40,371.08 353.80,371.01" fill="#111" stroke="none" stroke-width="1"/>
<text x="325.00" y="481.00" font-size="7.3" font-weight="bold" text-anchor="end" fill="#111" stroke="#111" stroke-width="0.18" transform="rotate(-45 325.0 481.0)">DMSO</text>
<text x="353.80" y="481.00" font-size="7.3" font-weight="bold" text-anchor="end" fill="#111" stroke="#111" stroke-width="0.18" transform="rotate(-45 353.8 481.0)">LY294002</text>
<text x="382.70" y="481.00" font-size="7.3" font-weight="bold" text-anchor="end" fill="#111" stroke="#111" stroke-width="0.18" transform="rotate(-45 382.7 481.0)">MK-2206</text>
<text x="411.50" y="481.00" font-size="7.3" font-weight="bold" text-anchor="end" fill="#111" stroke="#111" stroke-width="0.18" transform="rotate(-45 411.5 481.0)">Rapamycin</text>
<text x="440.40" y="481.00" font-size="7.3" font-weight="bold" text-anchor="end" fill="#111" stroke="#111" stroke-width="0.18" transform="rotate(-45 440.4 481.0)">SCH772984</text>
<text x="484.30" y="349.50" font-size="15.4" font-weight="bold" text-anchor="start" fill="#111" stroke="#111" stroke-width="0.18">H</text>
<line x1="529.80" y1="363.20" x2="529.80" y2="465.40" stroke="#111" stroke-width="1.2"/>
<line x1="529.80" y1="465.40" x2="685.00" y2="465.40" stroke="#111" stroke-width="1.2"/>
<line x1="525.80" y1="465.40" x2="529.80" y2="465.40" stroke="#111" stroke-width="1.2"/>
<text x="524.00" y="468.00" font-size="7.4" font-weight="bold" text-anchor="end" fill="#111" stroke="#111" stroke-width="0.18">0</text>
<line x1="525.80" y1="439.85" x2="529.80" y2="439.85" stroke="#111" stroke-width="1.2"/>
<text x="524.00" y="442.45" font-size="7.4" font-weight="bold" text-anchor="end" fill="#111" stroke="#111" stroke-width="0.18">10</text>
<line x1="525.80" y1="414.30" x2="529.80" y2="414.30" stroke="#111" stroke-width="1.2"/>
<text x="524.00" y="416.90" font-size="7.4" font-weight="bold" text-anchor="end" fill="#111" stroke="#111" stroke-width="0.18">20</text>
<line x1="525.80" y1="388.75" x2="529.80" y2="388.75" stroke="#111" stroke-width="1.2"/>
<text x="524.00" y="391.35" font-size="7.4" font-weight="bold" text-anchor="end" fill="#111" stroke="#111" stroke-width="0.18">30</text>
<line x1="525.80" y1="363.20" x2="529.80" y2="363.20" stroke="#111" stroke-width="1.2"/>
<text x="524.00" y="365.80" font-size="7.4" font-weight="bold" text-anchor="end" fill="#111" stroke="#111" stroke-width="0.18">40</text>
<text x="511.80" y="413.6" font-size="8.5" font-weight="bold" text-anchor="middle" fill="#111" stroke="#111" stroke-width="0.18" transform="rotate(-90 511.80 413.6)">Migratory NK cells(*10<tspan dy="-4.4" font-size="5.2">4</tspan><tspan dy="4.4">)</tspan></text>
<rect x="540.20" y="386.50" width="17.80" height="78.90" fill="#fff" stroke="#111" stroke-width="1.3" rx="0"/>
<rect x="569.00" y="407.00" width="17.80" height="58.40" fill="#fff" stroke="#111" stroke-width="1.3" rx="0"/>
<rect x="597.80" y="426.70" width="17.80" height="38.70" fill="#fff" stroke="#111" stroke-width="1.3" rx="0"/>
<rect x="626.60" y="417.50" width="17.80" height="47.90" fill="#fff" stroke="#111" stroke-width="1.3" rx="0"/>
<rect x="655.50" y="417.10" width="17.80" height="48.30" fill="#fff" stroke="#111" stroke-width="1.3" rx="0"/>
<line x1="549.10" y1="371.00" x2="549.10" y2="401.20" stroke="#333" stroke-width="1.2"/>
<line x1="544.60" y1="371.00" x2="553.60" y2="371.00" stroke="#333" stroke-width="1.2"/>
<line x1="544.60" y1="401.20" x2="553.60" y2="401.20" stroke="#333" stroke-width="1.2"/>
<line x1="577.90" y1="392.40" x2="577.90" y2="421.00" stroke="#333" stroke-width="1.2"/>
<line x1="573.40" y1="392.40" x2="582.40" y2="392.40" stroke="#333" stroke-width="1.2"/>
<line x1="573.40" y1="421.00" x2="582.40" y2="421.00" stroke="#333" stroke-width="1.2"/>
<line x1="606.70" y1="415.20" x2="606.70" y2="437.30" stroke="#333" stroke-width="1.2"/>
<line x1="602.20" y1="415.20" x2="611.20" y2="415.20" stroke="#333" stroke-width="1.2"/>
<line x1="602.20" y1="437.30" x2="611.20" y2="437.30" stroke="#333" stroke-width="1.2"/>
<line x1="635.50" y1="403.30" x2="635.50" y2="430.40" stroke="#333" stroke-width="1.2"/>
<line x1="631.00" y1="403.30" x2="640.00" y2="403.30" stroke="#333" stroke-width="1.2"/>
<line x1="631.00" y1="430.40" x2="640.00" y2="430.40" stroke="#333" stroke-width="1.2"/>
<line x1="664.40" y1="405.70" x2="664.40" y2="427.50" stroke="#333" stroke-width="1.2"/>
<line x1="659.90" y1="405.70" x2="668.90" y2="405.70" stroke="#333" stroke-width="1.2"/>
<line x1="659.90" y1="427.50" x2="668.90" y2="427.50" stroke="#333" stroke-width="1.2"/>
<line x1="549.10" y1="465.40" x2="549.10" y2="469.20" stroke="#111" stroke-width="1.2"/>
<line x1="577.90" y1="465.40" x2="577.90" y2="469.20" stroke="#111" stroke-width="1.2"/>
<line x1="606.70" y1="465.40" x2="606.70" y2="469.20" stroke="#111" stroke-width="1.2"/>
<line x1="635.50" y1="465.40" x2="635.50" y2="469.20" stroke="#111" stroke-width="1.2"/>
<line x1="664.40" y1="465.40" x2="664.40" y2="469.20" stroke="#111" stroke-width="1.2"/>
<circle cx="549.10" cy="368.00" r="2.05" fill="#111"/>
<circle cx="549.10" cy="372.70" r="2.05" fill="#111"/>
<circle cx="541.50" cy="380.90" r="2.05" fill="#111"/>
<circle cx="549.10" cy="383.50" r="2.05" fill="#111"/>
<circle cx="549.10" cy="387.80" r="2.05" fill="#111"/>
<circle cx="549.10" cy="393.60" r="2.05" fill="#111"/>
<circle cx="549.10" cy="414.30" r="2.05" fill="#111"/>
<rect x="575.75" y="386.35" width="3.90" height="3.90" fill="#111" stroke="none" stroke-width="1" rx="0"/>
<rect x="575.75" y="391.85" width="3.90" height="3.90" fill="#111" stroke="none" stroke-width="1" rx="0"/>
<rect x="575.75" y="396.55" width="3.90" height="3.90" fill="#111" stroke="none" stroke-width="1" rx="0"/>
<rect x="575.75" y="401.35" width="3.90" height="3.90" fill="#111" stroke="none" stroke-width="1" rx="0"/>
<rect x="583.35" y="411.95" width="3.90" height="3.90" fill="#111" stroke="none" stroke-width="1" rx="0"/>
<rect x="575.75" y="414.65" width="3.90" height="3.90" fill="#111" stroke="none" stroke-width="1" rx="0"/>
<rect x="575.75" y="427.85" width="3.90" height="3.90" fill="#111" stroke="none" stroke-width="1" rx="0"/>
<polygon points="599.00,412.86 597.15,416.56 600.85,416.56" fill="#111" stroke="none" stroke-width="1"/>
<polygon points="606.60,413.26 604.75,416.96 608.45,416.96" fill="#111" stroke="none" stroke-width="1"/>
<polygon points="606.60,417.26 604.75,420.96 608.45,420.96" fill="#111" stroke="none" stroke-width="1"/>
<polygon points="606.60,421.66 604.75,425.36 608.45,425.36" fill="#111" stroke="none" stroke-width="1"/>
<polygon points="606.60,427.86 604.75,431.56 608.45,431.56" fill="#111" stroke="none" stroke-width="1"/>
<polygon points="606.60,430.56 604.75,434.26 608.45,434.26" fill="#111" stroke="none" stroke-width="1"/>
<polygon points="606.60,443.46 604.75,447.16 608.45,447.16" fill="#111" stroke="none" stroke-width="1"/>
<polygon points="635.60,402.54 633.75,398.84 637.45,398.84" fill="#111" stroke="none" stroke-width="1"/>
<polygon points="643.30,403.14 641.45,399.44 645.15,399.44" fill="#111" stroke="none" stroke-width="1"/>
<polygon points="628.00,415.84 626.15,412.14 629.85,412.14" fill="#111" stroke="none" stroke-width="1"/>
<polygon points="635.60,415.84 633.75,412.14 637.45,412.14" fill="#111" stroke="none" stroke-width="1"/>
<polygon points="628.00,423.14 626.15,419.44 629.85,419.44" fill="#111" stroke="none" stroke-width="1"/>
<polygon points="635.60,425.84 633.75,422.14 637.45,422.14" fill="#111" stroke="none" stroke-width="1"/>
<polygon points="635.60,441.44 633.75,437.74 637.45,437.74" fill="#111" stroke="none" stroke-width="1"/>
<polygon points="664.50,401.95 666.45,403.90 664.50,405.85 662.55,403.90" fill="#111" stroke="none" stroke-width="1"/>
<polygon points="672.20,404.55 674.15,406.50 672.20,408.45 670.25,406.50" fill="#111" stroke="none" stroke-width="1"/>
<polygon points="664.50,406.95 666.45,408.90 664.50,410.85 662.55,408.90" fill="#111" stroke="none" stroke-width="1"/>
<polygon points="672.20,414.55 674.15,416.50 672.20,418.45 670.25,416.50" fill="#111" stroke="none" stroke-width="1"/>
<polygon points="664.50,417.55 666.45,419.50 664.50,421.45 662.55,419.50" fill="#111" stroke="none" stroke-width="1"/>
<polygon points="664.50,425.15 666.45,427.10 664.50,429.05 662.55,427.10" fill="#111" stroke="none" stroke-width="1"/>
<polygon points="664.50,430.25 666.45,432.20 664.50,434.15 662.55,432.20" fill="#111" stroke="none" stroke-width="1"/>
<polyline points="548.80,346.40 548.80,344.20 664.80,344.20 664.80,346.40" fill="none" stroke="#111" stroke-width="1.0"/>
<polygon points="605.60,337.80 606.10,339.11 607.50,339.18 606.41,340.06 606.78,341.42 605.60,340.65 604.42,341.42 604.79,340.06 603.70,339.18 605.10,339.11" fill="#111" stroke="none" stroke-width="1"/>
<polygon points="609.40,337.80 609.90,339.11 611.30,339.18 610.21,340.06 610.58,341.42 609.40,340.65 608.22,341.42 608.59,340.06 607.50,339.18 608.90,339.11" fill="#111" stroke="none" stroke-width="1"/>
<polyline points="548.80,353.70 548.80,351.50 635.70,351.50 635.70,353.70" fill="none" stroke="#111" stroke-width="1.0"/>
<polygon points="594.00,346.10 594.50,347.41 595.90,347.48 594.81,348.36 595.18,349.72 594.00,348.95 592.82,349.72 593.19,348.36 592.10,347.48 593.50,347.41" fill="#111" stroke="none" stroke-width="1"/>
<polyline points="548.80,362.20 548.80,360.00 607.60,360.00 607.60,362.20" fill="none" stroke="#111" stroke-width="1.0"/>
<polygon points="573.50,354.70 574.00,356.01 575.40,356.08 574.31,356.96 574.68,358.32 573.50,357.55 572.32,358.32 572.69,356.96 571.60,356.08 573.00,356.01" fill="#111" stroke="none" stroke-width="1"/>
<polygon points="577.30,354.70 577.80,356.01 579.20,356.08 578.11,356.96 578.48,358.32 577.30,357.55 576.12,358.32 576.49,356.96 575.40,356.08 576.80,356.01" fill="#111" stroke="none" stroke-width="1"/>
<polygon points="581.10,354.70 581.60,356.01 583.00,356.08 581.91,356.96 582.28,358.32 581.10,357.55 579.92,358.32 580.29,356.96 579.20,356.08 580.60,356.01" fill="#111" stroke="none" stroke-width="1"/>
<polygon points="584.90,354.70 585.40,356.01 586.80,356.08 585.71,356.96 586.08,358.32 584.90,357.55 583.72,358.32 584.09,356.96 583.00,356.08 584.40,356.01" fill="#111" stroke="none" stroke-width="1"/>
<text x="550.30" y="478.80" font-size="7.3" font-weight="bold" text-anchor="end" fill="#111" stroke="#111" stroke-width="0.18" transform="rotate(-45 550.3000000000001 478.8)">DMSO</text>
<text x="579.10" y="478.80" font-size="7.3" font-weight="bold" text-anchor="end" fill="#111" stroke="#111" stroke-width="0.18" transform="rotate(-45 579.1 478.8)">LY294002</text>
<text x="607.90" y="478.80" font-size="7.3" font-weight="bold" text-anchor="end" fill="#111" stroke="#111" stroke-width="0.18" transform="rotate(-45 607.9000000000001 478.8)">MK-2206</text>
<text x="636.70" y="478.80" font-size="7.3" font-weight="bold" text-anchor="end" fill="#111" stroke="#111" stroke-width="0.18" transform="rotate(-45 636.7 478.8)">Rapamycin</text>
<text x="665.60" y="478.80" font-size="7.3" font-weight="bold" text-anchor="end" fill="#111" stroke="#111" stroke-width="0.18" transform="rotate(-45 665.6 478.8)">SCH772984</text>
</svg>
</body></html>
